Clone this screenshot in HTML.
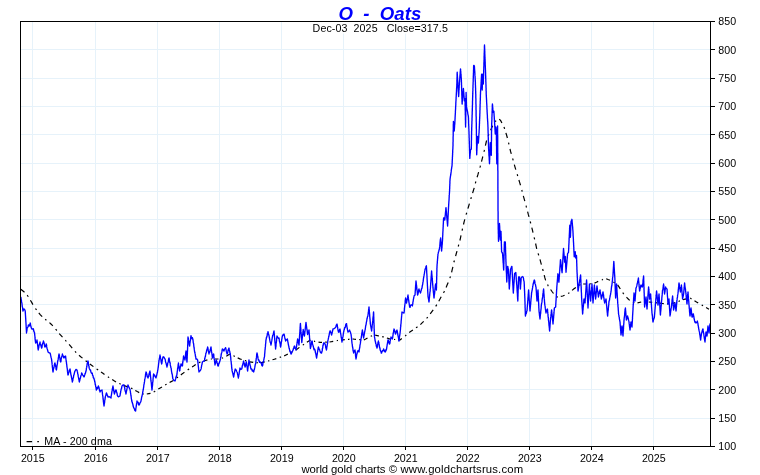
<!DOCTYPE html>
<html><head><meta charset="utf-8"><title>O - Oats</title>
<style>
html,body{margin:0;padding:0;background:#fff;}
body{width:760px;height:475px;overflow:hidden;}
svg{display:block;}
text{font-family:"Liberation Sans",Arial,sans-serif;}
</style></head><body>
<svg width="760" height="475" viewBox="0 0 760 475">
<rect x="0" y="0" width="760" height="475" fill="#fff"/>
<path d="M21 49.83H710 M21 78.17H710 M21 106.50H710 M21 134.83H710 M21 163.17H710 M21 191.50H710 M21 219.83H710 M21 248.17H710 M21 276.50H710 M21 304.83H710 M21 333.17H710 M21 361.50H710 M21 389.83H710 M21 418.17H710 M32.5 22V446 M95.5 22V446 M157.5 22V446 M219.5 22V446 M281.5 22V446 M343.5 22V446 M405.5 22V446 M467.5 22V446 M529.5 22V446 M591.5 22V446 M653.5 22V446" stroke="#e6f2fa" stroke-width="1" fill="none" shape-rendering="crispEdges"/>
<rect x="311" y="22" width="138" height="11.5" fill="#fff"/>
<path d="M20.8 289.2 L22.7 290.8 L24.5 292.3 M27.2 295.2 L27.9 296.1 L28.4 296.7 M30.4 300.2 L31.7 302.4 L32.9 304.6 M35.5 308.5 L36.1 309.4 L36.5 310.0 M38.8 312.9 L40.4 314.9 L42.2 316.7 M45.2 319.3 L45.8 319.8 L46.4 320.3 M49.5 322.6 L51.2 324.2 L52.8 325.9 M55.6 329.1 L56.3 329.9 L56.8 330.5 M59.2 333.6 L60.9 335.4 L62.5 337.1 M65.4 340.2 L65.9 340.8 L66.4 341.3 M69.1 344.4 L70.8 346.3 L72.2 348.1 M75.0 351.4 L75.7 352.1 L76.1 352.7 M79.0 355.3 L80.7 356.7 L82.5 358.1 M85.6 360.7 L86.4 361.3 L87.0 361.8 M89.8 363.9 L91.6 365.2 L93.4 366.6 M96.6 368.9 L97.5 369.5 L98.1 370.0 M101.0 372.0 L102.9 373.3 L104.5 374.5 M107.9 376.7 L108.6 377.2 L109.2 377.6 M112.2 379.5 L114.1 380.8 L116.0 382.0 M119.3 383.4 L120.0 383.8 L120.7 384.1 M123.8 385.4 L125.6 386.1 L127.5 386.8 M131.1 388.1 L131.8 388.4 L132.4 388.8 M135.3 390.4 L137.3 391.6 L139.2 392.6 M142.5 394.0 L143.2 394.0 L143.8 394.0 M146.8 394.0 L148.8 393.6 L150.5 393.3 M153.7 391.9 L154.6 391.4 L155.2 391.0 M158.3 389.1 L160.2 387.9 L162.0 386.9 M165.2 385.0 L165.9 384.6 L166.6 384.2 M169.6 382.5 L171.6 381.4 L173.3 380.4 M176.6 378.1 L177.4 377.4 L178.0 377.0 M180.8 374.9 L182.6 373.6 L184.4 372.2 M187.7 369.9 L188.5 369.3 L189.2 368.9 M192.1 366.9 L194.0 365.7 L195.7 364.5 M199.0 362.7 L199.7 362.4 L200.4 362.2 M203.5 361.2 L205.4 360.5 L207.4 359.9 M210.8 359.0 L211.5 359.0 L212.0 359.0 M215.0 359.0 L216.8 359.0 L218.5 359.0 M221.9 358.2 L222.6 358.0 L223.1 357.8 M226.3 356.2 L228.3 355.0 L230.0 354.0 M233.4 355.7 L234.1 356.0 L234.8 356.4 M237.7 357.9 L239.8 358.9 L241.7 359.5 M244.9 360.5 L245.6 360.7 L246.3 360.9 M249.5 361.9 L251.5 362.1 L253.2 362.3 M256.5 362.6 L257.2 362.7 L257.8 362.8 M260.7 362.8 L262.7 362.3 L264.7 361.8 M268.1 361.0 L268.8 360.8 L269.3 360.7 M272.5 359.8 L274.4 359.2 L276.3 358.6 M279.7 357.4 L280.4 357.2 L281.1 357.0 M284.2 355.9 L286.0 355.0 L287.8 354.1 M291.2 352.4 L291.9 352.0 L292.6 351.7 M295.8 350.1 L297.6 348.8 L299.4 347.4 M302.7 345.1 L303.3 344.7 L304.0 344.2 M306.9 342.2 L308.8 340.9 L310.5 340.1 M314.0 341.2 L314.8 341.4 L315.2 341.5 M318.5 342.1 L320.2 342.4 L322.0 342.3 M325.2 342.2 L326.0 342.2 L326.8 342.1 M329.5 342.0 L331.5 341.7 L333.2 341.4 M336.8 340.6 L337.5 340.5 L338.0 340.4 M341.0 339.9 L343.0 339.8 L344.8 339.6 M348.0 339.3 L348.8 339.3 L349.5 339.2 M352.5 339.0 L354.2 339.2 L356.0 339.3 M359.2 339.6 L360.0 339.7 L360.8 339.7 M363.8 340.0 L365.7 339.0 L367.5 337.9 M370.7 336.3 L371.4 336.0 L372.1 335.8 M375.2 335.2 L377.2 335.6 L379.0 336.0 M382.2 336.6 L383.0 336.8 L383.8 336.9 M386.9 338.0 L388.8 338.6 L390.8 339.1 M394.0 339.4 L394.8 339.5 L395.2 339.5 M398.2 339.8 L400.2 339.8 L401.8 338.6 M405.1 335.9 L405.7 335.5 L406.3 335.0 M409.2 332.6 L411.0 331.3 L412.9 330.0 M416.0 327.8 L416.9 327.2 L417.5 326.8 M420.4 324.6 L422.1 322.9 L423.7 321.3 M426.6 318.4 L427.3 317.7 L427.8 317.2 M430.2 313.9 L431.7 311.9 L433.2 309.9 M435.7 306.4 L436.2 305.6 L436.8 304.7 M438.8 301.2 L440.0 299.0 L441.2 296.8 M443.5 292.9 L444.0 292.0 L444.4 291.1 M446.1 287.4 L447.2 284.8 L448.2 282.5 M449.9 278.1 L450.2 277.1 L450.5 276.4 M451.6 272.3 L452.2 269.6 L452.9 266.9 M453.9 262.2 L454.2 261.3 L454.4 260.5 M455.6 256.2 L456.3 253.5 L457.0 251.1 M458.2 246.5 L458.5 245.6 L458.7 244.6 M459.9 240.5 L460.5 237.8 L461.0 235.3 M462.1 230.6 L462.3 229.6 L462.5 228.7 M463.5 224.5 L464.1 221.8 L464.8 219.3 M466.1 214.7 L466.4 213.7 L466.7 212.8 M467.9 208.6 L468.7 206.0 L469.4 203.6 M470.9 199.0 L471.1 198.0 L471.4 197.3 M472.6 193.2 L473.4 190.5 L474.2 187.8 M475.4 183.4 L475.6 182.4 L475.9 181.5 M477.1 177.3 L477.9 174.7 L478.6 172.2 M479.9 167.6 L480.2 166.7 L480.4 165.7 M481.5 161.6 L482.2 158.9 L482.8 156.5 M483.9 151.8 L484.2 150.9 L484.4 149.9 M485.4 145.7 L486.0 143.0 L486.6 140.5 M488.3 135.9 L488.6 135.0 L488.9 134.2 M490.6 130.3 L491.6 128.0 L492.7 125.7 M494.9 121.6 L495.5 121.2 L496.2 120.8 M499.3 119.1 L500.7 120.7 L501.9 123.0 M503.9 126.9 L504.3 127.8 L504.6 128.8 M505.9 132.8 L506.7 135.5 L507.4 138.0 M508.5 142.7 L508.8 143.7 L508.9 144.4 M510.0 148.8 L510.6 151.5 L511.3 153.9 M512.6 158.5 L512.9 159.4 L513.2 160.4 M514.3 164.6 L515.1 167.3 L515.8 169.7 M517.2 174.3 L517.5 175.2 L517.7 176.0 M518.9 180.0 L519.7 182.7 L520.5 185.3 M521.8 190.0 L522.0 190.9 L522.2 191.7 M523.3 195.9 L524.1 198.6 L524.8 201.1 M526.1 205.7 L526.3 206.7 L526.5 207.5 M527.6 211.7 L528.3 214.4 L529.0 216.8 M530.2 221.5 L530.5 222.5 L530.7 223.4 M531.8 227.6 L532.5 230.3 L533.0 232.7 M534.1 237.4 L534.4 238.3 L534.6 239.3 M535.6 243.5 L536.2 246.3 L536.7 248.8 M538.1 253.4 L538.4 254.3 L538.7 255.3 M540.0 259.4 L540.7 262.1 L541.4 264.6 M542.6 269.0 L542.9 270.0 L543.1 271.0 M544.2 275.2 L544.9 277.9 L545.6 280.3 M547.6 284.6 L548.0 285.5 L548.4 286.1 M550.6 289.5 L552.0 291.5 L553.5 293.5 M556.5 296.5 L557.0 297.0 L557.8 296.9 M560.8 296.4 L562.8 296.0 L564.6 295.2 M568.1 293.5 L568.8 293.1 L569.4 292.7 M572.1 290.4 L574.0 288.8 L575.9 287.4 M579.1 285.3 L579.7 284.9 L580.4 284.4 M583.2 284.0 L585.2 284.0 L587.0 284.0 M590.2 283.8 L591.0 283.7 L591.5 283.6 M594.5 283.1 L596.4 282.3 L598.2 281.4 M601.8 279.8 L602.5 279.6 L603.0 279.4 M606.2 278.7 L608.1 279.5 L610.0 280.2 M613.4 282.0 L614.1 282.4 L614.8 282.7 M617.6 284.8 L619.0 286.9 L620.3 289.0 M622.7 292.6 L623.3 293.4 L623.8 294.0 M626.5 297.1 L628.0 298.8 L629.7 300.4 M633.0 302.3 L633.7 302.6 L634.3 303.0 M637.5 302.8 L639.5 302.4 L641.2 302.0 M644.5 302.0 L645.2 302.0 L645.8 302.0 M648.8 302.0 L650.5 302.1 L652.2 302.3 M655.8 302.7 L656.5 302.8 L657.0 302.9 M660.0 303.2 L662.0 303.5 L663.8 303.7 M667.0 303.9 L667.8 303.8 L668.5 303.7 M671.5 303.3 L673.5 303.1 L675.2 302.6 M678.5 301.3 L679.2 301.1 L679.9 300.8 M683.0 299.8 L685.0 299.2 L686.8 298.8 M690.2 298.1 L690.9 298.5 L691.5 298.9 M694.5 300.8 L696.5 302.1 L698.2 303.1 M701.7 305.1 L702.4 305.4 L703.0 305.8 M706.1 307.5 L707.7 308.4 L709.0 309.2" fill="none" stroke="#000" stroke-width="1.2"/>
<polyline points="20.6,297.0 20.8,297.6 21.0,298.1 21.1,299.6 21.3,299.6 21.5,301.0 21.6,301.9 21.7,302.5 21.9,303.0 22.0,304.3 22.1,304.7 22.2,306.0 22.3,306.8 22.5,307.2 22.6,308.0 22.7,309.2 22.9,310.5 23.0,311.0 23.5,309.2 24.0,309.0 24.6,309.4 25.2,311.0 25.3,311.9 25.3,313.0 25.4,313.5 25.4,314.2 25.5,315.5 25.5,315.6 25.6,317.0 25.6,317.4 25.7,318.1 25.7,318.9 25.8,320.0 25.8,320.7 25.9,321.9 25.9,322.2 26.0,323.3 26.0,324.2 26.1,324.8 26.1,325.7 26.1,326.2 26.2,327.0 26.2,327.9 26.3,329.1 26.3,329.7 26.4,330.4 26.4,331.4 26.5,332.2 26.5,333.0 26.6,332.0 26.7,331.6 26.9,330.7 27.0,329.4 27.1,328.9 27.2,328.0 27.5,327.3 27.8,327.2 28.1,326.2 28.4,325.0 29.2,326.0 29.5,324.6 29.9,324.8 30.2,323.0 30.4,323.3 30.5,324.5 30.7,325.7 30.8,325.8 31.0,327.0 31.4,328.0 31.8,329.0 33.0,329.0 33.4,328.8 33.7,330.8 34.0,331.8 34.4,332.0 34.5,332.9 34.6,334.0 34.7,334.4 34.8,335.6 34.9,336.3 35.0,337.2 35.0,337.9 35.1,339.1 35.2,340.0 35.3,340.4 35.4,341.5 35.5,341.7 35.6,343.0 36.0,342.7 36.3,341.8 36.6,341.8 37.0,340.0 37.1,341.1 37.2,341.5 37.3,342.4 37.4,343.5 37.5,343.7 37.6,345.0 37.7,345.5 37.8,346.3 37.9,347.1 38.0,348.6 38.1,348.8 38.2,350.0 38.4,348.9 38.5,348.2 38.7,348.0 38.9,346.1 39.0,345.8 39.2,345.0 39.5,344.1 39.7,343.6 40.0,342.0 40.2,343.2 40.4,344.1 40.6,344.1 40.8,345.1 41.0,346.0 41.3,346.8 41.6,348.0 41.8,347.8 42.0,347.1 42.2,345.2 42.4,344.4 42.6,343.7 42.8,343.0 43.0,342.5 43.2,341.9 43.4,341.0 43.6,341.5 43.9,342.0 44.1,343.5 44.3,344.2 44.5,345.4 44.8,346.8 45.0,347.0 45.3,346.6 45.6,345.5 45.9,345.0 46.2,344.0 46.4,345.0 46.6,345.0 46.7,346.9 46.9,347.6 47.1,348.5 47.3,349.2 47.5,349.5 47.6,350.3 47.8,350.7 48.0,352.0 49.0,352.8 50.0,353.0 50.2,353.3 50.4,354.2 50.6,355.2 50.8,356.0 51.0,357.2 51.2,357.7 51.4,358.5 51.6,360.0 51.7,360.5 51.8,361.2 51.9,362.3 52.0,362.7 52.1,364.4 52.2,364.9 52.3,365.3 52.3,366.2 52.4,367.1 52.5,367.9 52.6,368.4 52.7,369.9 52.8,370.9 52.9,371.2 53.0,372.0 53.2,371.1 53.3,369.8 53.5,368.9 53.7,368.4 53.9,367.4 54.0,367.3 54.2,366.0 54.5,364.5 54.7,363.3 55.0,363.0 55.2,364.4 55.4,364.8 55.5,365.2 55.7,366.6 55.9,366.8 56.0,368.3 56.2,369.7 56.4,370.0 56.5,369.6 56.6,368.6 56.8,367.3 56.9,366.7 57.0,365.6 57.1,365.5 57.2,364.4 57.4,363.9 57.5,362.6 57.6,362.0 57.7,360.9 57.9,360.8 58.0,360.2 58.2,359.2 58.3,358.4 58.4,357.6 58.6,356.7 58.7,355.3 58.9,354.8 59.0,354.0 59.2,354.6 59.3,355.0 59.5,355.8 59.6,356.9 59.8,357.7 60.0,359.0 60.1,360.2 60.3,360.3 60.4,361.7 60.6,362.0 60.8,361.8 61.0,361.0 61.1,359.4 61.3,358.4 61.5,357.6 61.7,356.8 61.9,356.0 62.0,355.8 62.2,355.3 62.4,354.0 62.7,355.4 63.0,355.6 63.4,356.7 63.7,357.8 64.0,358.0 64.5,356.4 65.1,357.0 65.6,356.0 65.7,357.3 65.8,358.0 65.9,358.8 66.0,359.4 66.1,359.9 66.2,361.4 66.4,361.8 66.5,363.1 66.6,364.1 66.7,364.4 66.8,365.2 66.9,366.6 67.0,367.0 67.1,368.0 67.2,368.3 67.3,369.0 67.4,369.9 67.5,371.4 67.6,372.1 67.7,372.3 67.8,373.7 67.9,374.7 68.0,375.0 68.3,374.4 68.6,373.0 68.9,372.5 69.1,371.0 69.4,369.9 69.7,370.6 70.0,369.0 70.2,370.0 70.3,370.8 70.5,372.1 70.6,372.4 70.8,373.8 70.9,374.6 71.0,374.8 71.2,376.0 71.4,376.5 71.5,377.5 71.7,378.2 71.9,379.5 72.1,380.0 72.2,381.0 72.4,382.0 72.6,380.7 72.8,380.8 72.9,379.2 73.1,378.4 73.3,377.7 73.5,377.3 73.6,375.8 73.8,375.0 74.0,374.9 74.3,373.4 74.5,372.6 74.8,371.8 75.0,371.0 76.0,369.4 77.0,370.0 77.2,370.8 77.3,371.4 77.5,372.0 77.7,373.9 77.9,374.0 78.1,375.2 78.2,376.4 78.4,377.0 78.6,377.9 78.7,378.5 78.9,379.5 79.1,380.4 79.2,381.5 79.4,382.0 79.6,380.6 79.8,380.4 80.0,379.2 80.2,378.4 80.4,378.2 80.6,377.0 80.8,376.2 81.0,375.5 81.2,375.0 81.4,374.4 81.6,373.0 82.1,373.7 82.6,374.8 83.0,375.4 83.5,376.2 84.0,377.0 84.3,376.5 84.6,375.2 84.9,374.5 85.1,373.5 85.4,373.4 85.7,372.2 86.0,371.0 86.1,370.6 86.3,369.8 86.4,368.2 86.6,367.6 86.7,367.2 86.9,366.2 87.0,365.0 87.2,363.7 87.4,362.9 87.6,362.5 87.8,361.2 88.0,361.0 88.1,361.6 88.3,362.2 88.4,363.8 88.6,364.7 88.7,365.7 88.9,365.8 89.0,367.0 89.3,368.4 89.7,369.3 90.0,370.0 90.5,370.0 91.0,372.3 91.5,373.3 92.0,373.0 92.3,373.3 92.5,375.3 92.8,375.2 93.1,376.1 93.3,377.7 93.6,378.2 93.9,377.9 94.1,379.1 94.4,380.0 94.6,380.9 94.7,381.5 94.9,382.1 95.1,383.1 95.2,384.4 95.4,384.4 95.6,385.9 95.7,386.6 95.9,386.9 96.1,388.1 96.2,389.3 96.4,390.0 96.8,389.2 97.2,387.5 97.6,388.6 98.0,387.4 98.4,386.0 98.6,387.5 98.9,387.1 99.1,388.2 99.3,388.8 99.5,390.7 99.8,390.8 100.0,392.0 100.7,390.5 101.3,390.5 102.0,390.0 102.1,391.2 102.2,391.9 102.3,392.2 102.4,392.9 102.5,394.4 102.6,394.9 102.7,395.8 102.8,396.0 102.9,396.8 103.0,398.0 103.1,399.0 103.2,399.5 103.3,400.0 103.4,401.6 103.5,402.1 103.6,403.1 103.7,403.2 103.8,404.8 103.9,404.8 104.0,406.0 104.1,405.6 104.2,404.4 104.4,403.4 104.5,402.9 104.6,402.5 104.7,401.0 104.8,400.0 105.0,399.6 105.1,398.5 105.2,398.0 105.4,396.6 105.6,395.9 105.8,394.9 106.0,394.3 106.2,393.6 106.4,393.0 106.7,393.4 107.0,395.1 107.4,395.0 107.7,396.2 108.0,397.0 109.0,396.6 110.0,397.3 111.0,398.0 111.1,396.6 111.2,396.0 111.4,394.9 111.5,394.7 111.6,393.7 111.8,392.4 111.9,391.8 112.0,391.0 112.2,390.7 112.3,388.8 112.5,388.9 112.7,387.6 112.8,386.8 113.0,386.0 113.1,387.2 113.3,387.5 113.4,388.4 113.6,389.4 113.7,390.6 113.8,390.6 114.0,392.0 114.1,392.6 114.3,393.4 114.4,394.0 114.7,393.0 115.0,392.1 115.4,390.8 115.7,390.1 116.0,390.0 116.2,390.2 116.5,392.1 116.7,392.2 116.9,392.9 117.1,393.7 117.4,395.6 117.6,396.0 118.4,396.8 119.2,396.4 120.0,396.0 120.1,394.9 120.3,394.0 120.4,393.2 120.6,392.5 120.7,391.3 120.9,390.8 121.0,390.0 121.2,388.9 121.4,389.0 121.6,388.3 121.8,386.9 122.0,386.0 123.0,384.9 124.0,385.0 124.2,386.4 124.3,386.4 124.5,387.3 124.7,387.7 124.8,389.0 125.0,390.0 125.2,390.8 125.4,391.6 125.6,392.0 125.8,393.2 126.0,394.0 126.2,392.6 126.3,392.0 126.5,391.0 126.7,390.5 126.8,389.3 127.0,389.0 127.2,387.5 127.4,387.1 127.6,386.2 127.8,385.9 128.0,385.0 128.4,385.9 128.8,387.1 129.2,387.7 129.6,388.7 130.0,389.0 130.1,390.3 130.2,390.6 130.4,391.4 130.5,393.0 130.6,393.0 130.8,394.5 130.9,395.3 131.0,396.0 131.1,396.3 131.3,398.1 131.4,399.0 131.6,399.6 131.7,400.5 131.9,401.5 132.0,402.0 132.3,402.3 132.6,403.8 132.9,404.6 133.1,406.0 133.4,406.8 133.7,407.7 134.0,408.0 134.4,408.9 134.8,410.4 135.2,410.7 135.6,411.0 135.7,410.3 135.8,409.0 135.9,408.0 136.1,407.2 136.2,406.6 136.3,405.5 136.4,405.0 136.5,404.6 136.6,403.5 136.8,402.7 136.9,401.9 137.0,401.0 137.4,402.2 137.8,402.6 138.2,402.3 138.6,404.8 139.0,405.0 139.4,404.7 139.8,403.4 140.2,402.7 140.6,402.1 141.0,401.0 141.2,399.6 141.3,399.6 141.5,398.2 141.7,397.1 141.8,396.5 142.0,396.3 142.2,394.8 142.3,394.6 142.5,394.1 142.7,392.7 142.8,391.7 143.0,391.0 143.1,390.1 143.3,389.5 143.4,388.8 143.5,387.8 143.7,387.0 143.8,385.5 143.9,384.8 144.1,384.1 144.2,383.8 144.3,382.5 144.5,381.9 144.6,381.0 144.7,379.6 144.9,378.9 145.0,378.3 145.1,377.9 145.2,377.1 145.4,376.3 145.5,375.0 145.6,374.5 145.7,373.6 145.9,372.8 146.0,372.0 146.3,372.2 146.6,374.4 146.9,374.1 147.1,376.2 147.4,377.0 147.7,376.3 148.0,378.0 148.2,377.2 148.4,376.9 148.7,376.4 148.9,374.8 149.1,373.8 149.3,372.9 149.6,373.2 149.8,371.3 150.0,371.0 150.1,371.9 150.2,372.3 150.2,373.5 150.3,374.7 150.4,374.8 150.5,376.3 150.6,376.8 150.7,378.0 150.8,378.7 150.8,379.1 150.9,380.5 151.0,381.0 151.1,381.8 151.2,382.2 151.3,383.0 151.4,384.3 151.5,385.0 151.5,385.7 151.6,386.4 151.7,387.4 151.8,388.2 151.9,389.5 152.0,390.0 152.1,388.8 152.2,388.6 152.2,387.9 152.3,386.5 152.4,386.4 152.5,385.4 152.6,384.8 152.6,383.4 152.7,382.7 152.8,381.9 152.9,381.6 153.0,380.5 153.0,379.5 153.1,378.7 153.2,377.8 153.3,376.8 153.4,376.0 153.4,375.9 153.5,374.6 153.6,374.0 154.1,375.8 154.6,375.0 155.0,375.9 155.5,377.2 156.0,378.0 156.2,376.8 156.4,376.2 156.5,376.1 156.7,375.2 156.9,374.3 157.1,373.3 157.3,372.8 157.5,372.0 157.6,370.7 157.8,370.1 158.0,369.0 158.1,367.8 158.2,367.6 158.3,366.6 158.4,366.0 158.5,365.1 158.6,364.0 158.7,363.0 158.8,363.0 158.9,361.4 159.0,361.0 159.1,360.1 159.3,359.1 159.4,358.2 159.6,357.8 159.7,357.3 159.9,355.6 160.0,355.0 160.1,356.0 160.3,356.4 160.4,357.5 160.6,358.1 160.7,358.7 160.9,359.5 161.0,360.4 161.2,362.0 161.3,362.4 161.5,362.9 161.6,364.0 161.8,363.6 161.9,362.9 162.1,361.3 162.3,360.1 162.5,359.2 162.7,358.2 162.8,357.7 163.0,357.0 163.7,356.8 164.3,357.8 165.0,359.0 165.2,359.5 165.4,360.7 165.6,361.9 165.8,362.6 166.0,362.9 166.2,363.7 166.4,364.6 166.6,365.2 166.8,366.0 167.0,367.0 167.2,365.6 167.4,365.1 167.5,365.2 167.7,363.2 167.9,362.9 168.1,362.3 168.3,361.7 168.5,360.1 168.6,359.3 168.8,358.5 169.0,358.0 169.2,358.7 169.3,359.6 169.5,361.1 169.7,361.8 169.8,362.6 170.0,362.4 170.2,363.3 170.3,364.9 170.5,366.0 170.7,366.3 170.8,367.3 171.0,368.0 171.2,368.3 171.3,369.6 171.5,371.0 171.6,371.8 171.8,372.7 171.9,373.6 172.1,373.6 172.2,374.3 172.4,375.2 172.5,376.5 172.7,377.5 172.8,378.7 173.0,379.0 173.7,380.2 174.3,380.7 175.0,381.0 175.2,380.6 175.4,379.4 175.7,378.7 175.9,377.2 176.1,377.5 176.3,375.9 176.6,376.2 176.8,375.0 177.0,374.0 177.1,373.0 177.2,371.9 177.3,371.2 177.4,370.8 177.5,370.0 177.6,368.5 177.8,367.6 177.9,367.3 178.0,366.5 178.1,365.4 178.2,364.4 178.3,363.9 178.4,363.0 178.5,363.3 178.6,364.4 178.8,365.4 178.9,366.7 179.0,367.2 179.1,368.2 179.2,368.6 179.4,369.1 179.5,369.9 179.6,371.0 179.8,370.7 179.9,369.5 180.1,368.1 180.3,366.9 180.5,366.6 180.7,366.0 180.8,364.8 181.0,364.0 181.5,364.1 181.9,365.7 182.4,366.0 182.5,365.6 182.6,364.1 182.7,363.0 182.8,362.5 182.9,361.8 183.0,361.2 183.1,359.9 183.2,359.6 183.3,358.7 183.4,357.7 183.5,356.5 183.6,356.0 183.9,357.6 184.2,357.3 184.4,358.9 184.7,358.7 185.0,360.0 185.1,358.9 185.2,358.6 185.3,357.4 185.4,357.2 185.5,355.9 185.5,354.8 185.6,354.0 185.7,353.4 185.8,352.8 185.9,352.2 186.0,351.0 186.1,351.5 186.2,352.6 186.2,353.3 186.3,354.8 186.4,354.9 186.5,355.7 186.5,356.5 186.6,357.7 186.7,359.0 186.8,359.8 186.8,360.5 186.9,361.6 187.0,362.0 187.0,361.5 187.1,360.2 187.1,359.3 187.1,359.0 187.2,358.1 187.2,356.7 187.2,356.4 187.3,355.3 187.3,354.5 187.4,353.6 187.4,352.7 187.4,351.8 187.5,351.1 187.5,350.4 187.5,350.0 187.6,348.6 187.6,348.0 187.6,347.5 187.7,346.1 187.7,345.4 187.7,344.8 187.8,344.0 187.8,342.9 187.8,341.8 187.8,341.2 187.9,340.3 187.9,339.8 187.9,338.5 188.0,337.8 188.0,337.0 188.1,338.3 188.3,338.1 188.4,339.4 188.6,340.6 188.7,341.4 188.9,341.4 189.0,342.2 189.2,343.0 189.3,344.9 189.5,344.9 189.6,346.0 189.7,345.5 189.8,344.8 189.9,343.4 190.0,342.6 190.1,342.5 190.2,341.3 190.4,340.2 190.5,339.8 190.6,338.6 190.7,337.8 190.8,336.7 190.9,336.7 191.0,335.6 191.3,337.2 191.7,337.3 192.0,338.7 192.3,337.6 192.7,338.7 193.0,340.0 193.1,340.8 193.2,342.1 193.3,343.0 193.5,343.2 193.6,343.9 193.7,344.9 193.8,345.8 193.9,347.1 194.1,347.2 194.2,348.6 194.3,349.4 194.4,350.0 194.5,351.2 194.7,352.0 194.8,352.6 195.0,353.1 195.1,353.9 195.3,354.7 195.4,356.1 195.6,356.1 195.7,357.0 195.9,358.5 196.0,359.0 196.8,358.9 197.6,360.0 197.7,360.4 197.8,361.2 197.9,362.5 198.0,363.0 198.1,364.5 198.2,365.2 198.3,366.1 198.3,366.2 198.4,366.8 198.5,367.6 198.6,368.8 198.7,369.8 198.8,370.3 198.9,370.9 199.0,372.0 199.5,371.1 200.0,370.8 200.5,370.1 201.0,369.0 201.2,368.4 201.3,367.7 201.5,366.6 201.7,365.0 201.9,365.0 202.1,363.5 202.2,363.0 202.4,362.0 203.4,361.2 204.4,361.0 204.6,360.5 204.7,359.0 204.9,358.3 205.0,357.5 205.2,356.6 205.4,356.7 205.5,355.5 205.7,354.4 205.8,353.7 206.0,353.0 206.2,352.9 206.5,351.3 206.7,350.0 206.9,350.0 207.1,348.9 207.4,348.6 207.6,347.0 207.8,347.4 207.9,348.7 208.1,350.0 208.3,350.9 208.5,351.9 208.7,351.7 208.8,352.9 209.0,354.0 209.2,352.6 209.4,352.0 209.7,352.4 209.9,351.0 210.1,350.8 210.3,349.1 210.6,349.1 210.8,347.7 211.0,347.0 211.1,347.6 211.2,349.0 211.3,350.0 211.4,350.0 211.5,351.3 211.6,352.2 211.8,352.6 211.9,353.6 212.0,354.3 212.1,355.2 212.2,356.1 212.3,357.3 212.4,358.0 212.6,357.4 212.9,355.9 213.1,354.8 213.4,354.5 213.6,354.0 213.7,355.0 213.8,355.4 213.9,356.4 214.0,357.1 214.1,358.5 214.2,359.1 214.4,359.5 214.5,360.4 214.6,361.5 214.7,362.5 214.8,363.4 214.9,363.7 215.0,365.0 215.2,363.7 215.5,363.6 215.7,362.4 215.9,361.3 216.2,360.5 216.4,360.0 216.6,361.5 216.9,361.4 217.1,362.7 217.3,363.2 217.5,364.2 217.8,365.7 218.0,366.0 218.3,366.1 218.7,364.1 219.0,362.9 219.3,363.1 219.7,361.3 220.0,361.0 220.2,359.6 220.3,359.9 220.5,358.5 220.6,358.2 220.8,356.9 221.0,356.7 221.1,355.4 221.3,354.2 221.4,353.2 221.6,353.1 221.8,352.4 221.9,351.9 222.1,350.1 222.2,350.0 222.4,349.0 222.9,349.4 223.5,350.3 224.0,351.0 224.4,349.4 224.8,348.9 225.2,348.5 225.6,347.6 225.8,349.0 225.9,348.7 226.1,350.0 226.3,351.2 226.5,352.2 226.7,352.0 226.8,352.7 227.0,354.0 227.3,353.9 227.6,353.1 227.9,351.4 228.1,349.8 228.4,350.4 228.7,348.7 229.0,348.0 229.2,349.4 229.3,349.9 229.5,351.0 229.7,351.1 229.9,352.7 230.1,352.9 230.2,354.0 230.4,355.0 230.5,356.2 230.6,357.0 230.7,357.2 230.8,358.1 230.8,359.1 230.9,360.0 231.0,360.7 231.1,361.3 231.2,362.3 231.3,363.5 231.4,364.5 231.5,364.6 231.6,365.9 231.6,366.9 231.7,367.1 231.8,368.6 231.9,368.8 232.0,370.0 232.2,371.0 232.4,371.8 232.6,372.8 232.8,373.2 233.0,374.3 233.2,375.4 233.4,376.0 233.6,377.0 233.8,376.4 233.9,375.3 234.1,374.5 234.2,373.2 234.4,373.1 234.6,372.2 234.7,371.1 234.9,370.9 235.0,370.1 235.2,369.0 235.6,369.7 236.1,369.8 236.6,371.2 237.0,372.0 237.2,372.3 237.4,373.2 237.6,374.5 237.8,374.9 238.0,376.2 238.2,377.2 238.4,378.0 238.5,376.7 238.7,376.5 238.8,375.0 238.9,374.9 239.1,374.1 239.2,373.0 239.3,371.7 239.5,371.3 239.6,370.4 239.7,370.2 239.9,368.4 240.0,368.0 240.8,369.3 241.6,369.0 241.8,368.9 242.0,367.7 242.2,367.0 242.4,365.4 242.6,365.7 242.8,364.2 243.0,364.0 243.2,363.2 243.4,361.3 243.6,361.0 243.8,362.2 244.0,363.3 244.2,363.0 244.4,364.2 244.6,365.6 244.8,365.7 245.0,367.0 245.2,366.8 245.5,365.0 245.7,365.0 245.9,363.1 246.2,362.8 246.4,362.0 246.5,363.2 246.6,363.3 246.7,364.2 246.8,365.3 246.9,365.9 247.1,366.4 247.2,367.4 247.3,368.2 247.4,369.8 247.5,370.4 247.6,371.0 247.7,370.5 247.8,369.0 247.9,368.7 248.0,367.2 248.1,366.8 248.2,366.1 248.4,364.9 248.5,364.6 248.6,363.4 248.7,362.6 248.8,362.1 248.9,360.5 249.0,360.0 249.2,361.5 249.4,361.8 249.5,362.3 249.7,363.7 249.9,363.8 250.1,365.6 250.3,365.8 250.5,366.4 250.6,367.7 250.8,368.1 251.0,369.0 251.7,369.0 252.3,371.0 252.9,370.3 253.6,372.0 253.8,371.6 254.0,370.1 254.2,369.8 254.4,369.5 254.6,368.1 254.8,367.4 255.0,366.1 255.2,364.9 255.4,364.1 255.6,364.0 255.7,362.8 255.8,362.4 255.9,361.4 256.0,360.6 256.1,360.2 256.2,358.6 256.4,357.8 256.5,357.4 256.6,355.9 256.7,355.0 256.8,354.5 256.9,353.5 257.0,353.0 257.2,353.7 257.4,354.4 257.5,355.7 257.7,356.6 257.9,357.0 258.0,358.4 258.2,359.1 258.4,360.0 258.9,359.9 259.5,362.3 260.0,362.0 260.5,362.2 261.0,362.8 261.4,363.5 261.9,365.5 262.4,366.0 262.6,365.7 262.8,364.7 262.9,363.4 263.1,362.4 263.3,361.3 263.5,361.3 263.7,360.4 263.9,359.3 264.0,358.8 264.2,357.7 264.4,357.0 264.5,356.6 264.6,355.6 264.6,354.4 264.7,354.1 264.8,352.6 264.9,352.2 264.9,351.3 265.0,350.3 265.1,349.3 265.2,349.2 265.2,347.7 265.3,347.3 265.4,346.9 265.5,345.4 265.5,344.6 265.6,344.1 265.7,343.2 265.8,342.6 265.8,341.9 265.9,340.5 266.0,340.0 266.2,338.9 266.4,338.0 266.6,336.9 266.8,337.2 267.0,336.2 267.2,335.3 267.4,333.4 267.6,333.8 267.8,332.8 268.0,331.6 268.2,332.4 268.4,333.6 268.5,334.0 268.7,334.5 268.9,335.2 269.1,336.2 269.2,336.8 269.4,338.0 269.6,339.0 269.8,340.2 270.0,341.0 270.2,342.0 270.4,342.7 270.6,343.0 270.8,344.2 271.0,345.0 271.1,344.1 271.3,343.7 271.4,342.6 271.6,341.5 271.7,341.2 271.8,340.7 272.0,339.1 272.1,339.0 272.3,337.2 272.4,337.0 272.6,335.8 272.9,334.9 273.1,334.8 273.3,334.2 273.5,333.1 273.8,331.6 274.0,331.0 274.1,332.1 274.1,332.5 274.2,333.2 274.3,334.6 274.4,335.2 274.4,336.1 274.5,336.9 274.6,338.0 274.7,338.3 274.7,339.5 274.8,340.2 274.9,341.1 274.9,341.6 275.0,342.6 275.1,343.3 275.2,343.9 275.2,344.7 275.3,345.8 275.4,346.2 275.5,347.7 275.5,347.9 275.6,349.0 275.7,347.7 275.8,347.0 275.9,347.0 276.0,345.6 276.0,344.6 276.1,343.7 276.2,342.9 276.3,342.7 276.4,341.8 276.5,341.1 276.6,340.3 276.6,338.8 276.7,338.5 276.8,337.5 276.9,337.1 277.0,336.0 277.7,337.4 278.3,338.2 279.0,338.0 279.1,338.3 279.3,340.1 279.4,340.9 279.6,341.8 279.7,341.6 279.9,342.6 280.0,343.3 280.2,344.0 280.3,345.8 280.5,346.5 280.6,347.0 280.7,346.3 280.9,345.7 281.0,344.6 281.2,343.4 281.3,342.3 281.4,341.5 281.6,341.4 281.7,339.9 281.8,339.2 282.0,338.5 282.1,337.2 282.3,336.6 282.4,336.0 282.9,334.9 283.5,335.1 284.0,334.0 284.2,334.7 284.4,335.5 284.6,337.2 284.8,337.5 285.0,338.8 285.2,339.4 285.4,339.5 285.6,341.0 286.2,340.1 286.8,339.5 287.4,339.0 287.5,340.1 287.7,340.5 287.8,341.7 288.0,342.3 288.1,342.8 288.3,344.3 288.4,344.3 288.6,345.9 288.7,346.0 288.9,346.6 289.0,348.0 289.3,348.4 289.6,350.2 289.9,351.4 290.1,350.6 290.4,352.3 290.7,353.1 291.0,354.0 291.4,353.9 291.8,351.8 292.2,351.7 292.6,351.0 292.9,349.9 293.2,349.9 293.5,348.1 293.8,348.4 294.1,346.5 294.4,346.0 294.7,346.3 295.0,348.0 295.4,348.4 295.7,348.5 296.0,350.0 296.1,349.3 296.2,347.9 296.4,347.8 296.5,346.8 296.6,346.1 296.7,345.1 296.9,343.9 297.0,343.1 297.1,342.3 297.2,342.0 297.4,340.3 297.5,340.3 297.6,339.0 297.8,339.2 298.0,340.3 298.2,341.3 298.4,343.0 298.6,343.3 298.8,344.0 299.0,345.0 299.1,344.5 299.1,343.1 299.2,342.5 299.2,341.7 299.3,341.1 299.3,340.2 299.4,339.3 299.4,338.3 299.5,337.4 299.5,336.5 299.6,336.2 299.6,335.2 299.7,334.4 299.8,333.2 299.8,332.5 299.9,332.0 299.9,331.0 300.0,329.8 300.0,329.3 300.1,328.8 300.1,327.4 300.2,326.6 300.2,325.8 300.3,325.3 300.3,324.6 300.4,323.5 300.5,324.0 300.5,324.9 300.6,325.8 300.6,326.7 300.7,327.6 300.8,328.2 300.8,329.1 300.9,329.9 300.9,331.3 301.0,331.9 301.1,332.3 301.1,333.8 301.2,333.9 301.3,335.0 301.3,336.3 301.4,337.0 301.4,337.7 301.5,338.3 301.6,338.9 301.6,340.1 301.7,340.5 301.7,341.4 301.8,342.5 301.9,341.6 302.0,340.4 302.1,340.0 302.1,339.5 302.2,338.6 302.3,337.6 302.4,336.9 302.5,336.0 302.6,334.9 302.7,334.5 302.8,333.5 302.9,333.0 302.9,332.3 303.0,331.1 303.1,330.4 303.2,329.5 303.3,330.6 303.5,331.0 303.6,331.6 303.8,333.0 303.9,334.0 304.1,334.7 304.2,335.4 304.4,336.0 304.5,335.5 304.6,334.6 304.7,333.7 304.8,332.8 304.9,331.8 305.0,331.3 305.1,330.0 305.2,329.5 305.2,329.1 305.3,328.2 305.4,327.3 305.5,326.2 305.6,325.5 305.7,324.8 305.8,324.1 305.9,323.1 306.0,322.4 306.1,323.4 306.2,324.4 306.3,324.5 306.4,325.8 306.5,326.7 306.6,327.1 306.7,328.0 306.9,329.3 307.0,329.2 307.1,330.5 307.2,330.9 307.3,332.4 307.4,333.3 307.5,333.7 307.6,334.5 307.9,333.0 308.2,332.8 308.4,331.9 308.7,331.2 309.0,330.0 309.1,330.8 309.1,331.7 309.2,332.7 309.2,333.2 309.3,333.9 309.4,335.2 309.4,335.4 309.5,336.6 309.5,337.2 309.6,338.3 309.7,338.5 309.7,340.0 309.8,340.3 309.9,340.9 309.9,341.9 310.0,342.8 310.0,343.3 310.1,344.4 310.2,345.2 310.2,346.2 310.3,346.8 310.3,347.5 310.4,348.5 310.6,347.3 310.8,347.1 310.9,346.6 311.1,345.2 311.3,344.0 311.5,343.9 311.6,342.5 311.8,341.5 312.0,341.0 312.2,341.4 312.4,343.1 312.6,344.0 312.8,344.7 313.0,345.3 313.2,346.3 313.4,346.8 313.6,348.0 314.1,349.7 314.5,349.0 315.0,350.0 315.2,351.0 315.3,352.0 315.5,352.8 315.6,353.2 315.8,353.7 316.0,354.9 316.1,355.1 316.3,356.8 316.4,357.0 316.6,358.0 316.7,357.5 316.9,356.0 317.0,355.3 317.2,354.3 317.3,353.7 317.4,352.6 317.6,351.5 317.7,351.5 317.8,350.1 318.0,349.3 318.1,348.5 318.3,347.8 318.4,347.0 318.7,347.7 319.0,348.9 319.4,349.7 319.7,349.9 320.0,351.0 320.5,352.6 321.1,353.1 321.6,353.0 321.8,351.6 321.9,351.7 322.1,351.0 322.3,350.0 322.4,348.4 322.6,348.4 322.8,347.3 322.9,345.7 323.1,344.9 323.3,345.2 323.4,344.0 323.6,343.0 324.3,343.0 325.0,344.0 325.2,344.3 325.4,345.2 325.6,346.2 325.8,347.8 326.0,348.1 326.2,348.7 326.4,350.0 326.5,349.6 326.7,348.7 326.8,347.1 326.9,347.1 327.1,346.0 327.2,345.3 327.3,344.4 327.5,343.8 327.6,342.8 327.7,342.0 327.9,340.5 328.0,340.0 328.2,339.4 328.4,338.4 328.5,337.9 328.7,336.6 328.9,336.4 329.1,335.2 329.3,334.0 329.5,333.1 329.6,332.2 329.8,331.8 330.0,331.0 330.3,331.0 330.6,332.5 331.0,332.7 331.3,334.2 331.6,335.0 331.8,334.1 332.0,333.3 332.2,332.9 332.4,330.9 332.6,331.2 332.8,329.8 333.0,329.0 334.0,328.6 335.0,328.0 335.4,327.6 335.8,327.1 336.2,325.3 336.6,324.6 337.0,324.0 337.1,325.3 337.3,325.1 337.4,326.6 337.6,327.4 337.7,327.5 337.8,328.9 338.0,329.8 338.1,330.9 338.3,331.0 338.4,332.0 338.8,332.3 339.2,330.5 339.6,329.7 340.0,329.0 340.1,330.2 340.2,330.1 340.4,331.7 340.5,332.4 340.6,332.9 340.8,334.3 340.9,334.5 341.0,335.5 341.1,336.3 341.2,337.4 341.4,337.6 341.5,338.7 341.6,339.5 341.8,340.4 341.9,341.5 342.0,342.0 342.1,341.0 342.3,340.8 342.4,339.5 342.5,338.8 342.7,337.7 342.8,337.2 342.9,336.9 343.1,335.8 343.2,335.1 343.3,333.8 343.5,333.0 343.6,332.2 343.7,331.7 343.9,331.0 344.0,330.0 344.3,329.7 344.6,327.6 344.9,328.0 345.2,327.5 345.5,326.1 345.8,324.4 346.1,324.0 346.4,323.6 346.6,323.8 346.7,324.9 346.9,326.6 347.0,327.1 347.2,328.0 347.4,329.0 347.5,330.0 347.7,330.5 347.8,331.3 348.0,332.0 348.5,331.6 349.1,331.1 349.6,330.0 349.9,331.0 350.2,331.9 350.4,331.9 350.7,333.5 351.0,334.0 351.1,334.8 351.2,335.9 351.3,336.0 351.4,336.9 351.5,337.6 351.6,339.1 351.7,340.0 351.7,340.5 351.8,341.1 351.9,342.3 352.0,343.1 352.1,343.7 352.2,344.2 352.3,345.0 352.4,346.0 352.5,346.8 352.7,347.5 352.9,348.5 353.0,349.7 353.1,350.9 353.3,350.7 353.5,352.2 353.6,353.0 354.0,351.3 354.3,350.7 354.6,351.4 355.0,350.0 355.1,350.9 355.2,352.0 355.3,352.4 355.4,352.8 355.5,354.0 355.5,355.0 355.6,356.1 355.7,357.0 355.8,357.3 355.9,358.1 356.0,359.0 356.2,357.7 356.3,357.6 356.5,356.2 356.6,355.4 356.8,354.4 357.0,353.6 357.1,353.6 357.3,352.1 357.4,352.4 357.6,351.0 358.3,350.6 359.0,352.0 359.1,351.6 359.2,350.0 359.4,349.0 359.5,349.0 359.6,347.7 359.8,347.4 359.9,346.0 360.0,345.0 360.1,345.0 360.2,344.1 360.4,343.4 360.5,342.5 360.6,341.0 360.8,340.8 360.9,340.0 361.0,339.0 361.1,338.1 361.3,337.8 361.4,336.3 361.5,336.2 361.6,335.1 361.8,333.6 361.9,332.7 362.0,332.6 362.1,332.0 362.3,330.4 362.4,330.0 362.5,330.6 362.6,331.8 362.8,332.0 362.9,333.6 363.0,334.0 363.1,334.3 363.2,335.5 363.4,336.5 363.5,337.1 363.6,338.0 363.7,337.4 363.9,336.0 364.0,335.9 364.2,334.6 364.3,334.2 364.4,333.4 364.6,332.3 364.7,331.5 364.9,331.1 365.0,330.0 365.2,329.7 365.3,328.6 365.5,327.5 365.6,326.4 365.8,325.3 365.9,325.5 366.1,324.3 366.2,323.6 366.4,322.2 366.5,321.7 366.7,321.3 366.8,320.2 367.0,319.0 367.2,318.3 367.4,317.1 367.6,316.5 367.8,316.3 368.0,315.0 368.1,314.1 368.2,313.6 368.3,312.7 368.4,312.2 368.5,311.3 368.6,310.0 368.7,308.9 368.8,308.4 368.9,307.7 369.0,307.0 369.1,307.9 369.1,308.9 369.2,309.8 369.3,309.9 369.3,311.3 369.4,312.1 369.5,313.0 369.5,313.5 369.6,314.1 369.7,315.4 369.7,316.2 369.8,316.9 369.9,317.9 369.9,318.2 370.0,318.8 370.1,320.0 370.1,321.0 370.2,321.3 370.3,322.6 370.3,323.6 370.4,324.0 370.5,324.6 370.7,325.9 370.9,326.8 371.0,327.5 371.1,328.0 371.3,329.0 371.5,330.4 371.6,331.0 371.7,330.5 371.8,329.3 371.9,328.2 372.0,328.0 372.1,327.2 372.1,325.8 372.2,325.3 372.3,324.8 372.4,324.0 372.5,322.8 372.6,322.0 372.7,321.1 372.8,320.4 372.9,319.2 372.9,318.4 373.0,317.5 373.1,317.2 373.2,316.0 373.3,315.4 373.4,314.4 373.4,313.7 373.5,312.5 373.6,312.0 373.6,312.5 373.7,313.9 373.7,314.3 373.7,314.9 373.7,316.1 373.8,317.0 373.8,317.4 373.8,318.5 373.8,319.1 373.9,320.0 373.9,320.5 373.9,321.3 373.9,322.7 374.0,323.4 374.0,324.0 374.0,324.8 374.1,325.4 374.1,326.6 374.1,327.2 374.1,328.3 374.2,329.0 374.2,329.8 374.2,330.7 374.2,331.0 374.3,331.7 374.3,332.6 374.3,333.4 374.3,334.1 374.4,334.9 374.4,336.0 374.5,336.9 374.7,338.2 374.9,338.6 375.0,340.0 375.1,340.8 375.3,340.8 375.5,342.2 375.6,343.0 375.8,343.7 376.1,344.1 376.3,346.2 376.5,346.0 376.8,347.3 377.0,348.0 377.2,347.3 377.4,346.8 377.5,345.6 377.7,344.4 377.9,343.6 378.0,342.3 378.2,342.5 378.4,341.0 378.6,342.4 378.7,342.3 378.9,342.8 379.0,343.9 379.2,344.8 379.4,346.3 379.5,347.1 379.7,347.8 379.8,347.6 380.0,349.0 380.3,350.3 380.6,351.0 381.0,351.7 381.3,353.1 381.6,353.0 382.0,351.3 382.4,350.6 382.8,351.1 383.2,350.7 383.6,349.0 384.0,350.1 384.3,350.1 384.6,351.4 385.0,352.0 385.5,351.9 385.9,349.8 386.4,350.0 386.5,349.0 386.7,348.1 386.8,347.1 386.9,346.6 387.1,345.5 387.2,344.7 387.3,343.8 387.5,343.5 387.6,342.0 387.7,341.9 387.9,340.5 388.0,340.0 388.3,339.9 388.6,342.4 389.0,341.9 389.3,344.0 389.6,344.0 389.8,343.6 390.0,342.7 390.1,340.9 390.3,340.4 390.5,339.1 390.6,339.3 390.8,338.3 391.0,337.0 391.5,337.9 391.9,338.2 392.4,339.0 392.5,338.0 392.7,337.7 392.8,336.5 392.9,335.8 393.1,334.4 393.2,333.7 393.3,332.7 393.5,332.6 393.6,331.6 393.7,330.3 393.9,330.2 394.0,329.0 394.3,329.5 394.5,330.5 394.8,330.9 395.1,332.0 395.3,333.7 395.6,334.0 395.9,332.9 396.2,331.8 396.4,331.6 396.7,330.5 397.0,330.0 397.2,331.3 397.3,331.2 397.5,333.1 397.6,332.9 397.8,334.7 397.9,335.3 398.1,335.6 398.2,336.7 398.4,337.4 398.5,338.2 398.7,339.0 398.8,340.0 399.0,341.0 399.1,340.6 399.2,339.8 399.3,338.9 399.4,337.2 399.5,336.6 399.6,336.3 399.8,334.6 399.9,334.5 400.0,333.2 400.1,333.0 400.2,331.2 400.3,331.2 400.4,330.0 400.5,329.0 400.5,328.1 400.6,327.1 400.7,327.0 400.8,325.9 400.8,324.8 400.9,324.2 401.0,323.8 401.1,322.4 401.1,321.9 401.2,320.7 401.3,319.9 401.3,319.6 401.4,318.7 401.5,317.5 401.6,316.5 401.6,315.7 401.7,315.4 401.8,314.5 401.9,313.4 401.9,312.6 402.0,312.0 403.0,312.7 404.0,313.0 404.1,312.4 404.2,311.6 404.3,310.6 404.4,309.4 404.4,308.4 404.5,308.2 404.6,307.1 404.7,306.5 404.8,305.1 404.9,305.0 405.0,303.7 405.1,303.3 405.2,302.5 405.2,301.3 405.3,300.1 405.4,300.0 405.5,298.8 405.6,298.0 405.8,299.3 405.9,299.4 406.1,300.1 406.3,301.7 406.4,302.0 406.6,303.0 406.7,301.8 406.9,301.3 407.0,300.7 407.2,299.2 407.3,299.0 407.4,298.1 407.6,297.4 407.7,296.2 407.9,296.0 408.0,295.0 408.1,296.1 408.2,297.0 408.3,297.2 408.4,298.4 408.5,298.9 408.6,300.1 408.7,300.2 408.9,301.8 409.0,302.7 409.1,303.0 409.2,303.8 409.3,304.6 409.4,305.4 409.5,305.7 409.6,307.0 410.1,307.4 410.5,305.1 411.0,305.0 411.7,304.8 412.4,306.0 412.5,304.7 412.7,304.1 412.8,303.9 412.9,302.1 413.1,301.4 413.2,301.2 413.3,299.8 413.5,298.8 413.6,298.6 413.7,297.8 413.9,296.9 414.0,296.0 415.0,295.0 415.1,294.3 415.1,293.0 415.2,292.8 415.2,291.9 415.3,290.5 415.4,289.8 415.4,289.2 415.5,288.4 415.5,287.4 415.6,286.5 415.6,285.9 415.7,284.8 415.8,284.4 415.8,283.8 415.9,282.4 415.9,281.9 416.0,281.0 416.1,282.1 416.2,282.3 416.3,283.8 416.4,284.7 416.5,285.0 416.6,285.9 416.7,287.1 416.8,287.6 416.8,288.3 416.9,289.7 417.0,290.3 417.1,290.7 417.2,291.5 417.3,292.4 417.4,293.3 417.5,294.6 417.6,295.0 417.8,294.6 418.0,293.8 418.2,292.9 418.4,292.0 418.6,290.1 418.8,289.9 419.0,289.0 419.3,290.6 419.6,291.3 419.8,291.0 420.1,292.1 420.4,293.0 420.7,292.4 420.9,291.1 421.2,290.5 421.5,289.0 421.7,288.7 422.0,288.0 422.1,287.2 422.3,285.8 422.4,285.1 422.5,285.2 422.7,284.1 422.8,283.5 422.9,282.3 423.1,281.7 423.2,280.9 423.3,280.1 423.5,278.3 423.6,278.0 423.7,277.3 423.9,276.0 424.0,275.7 424.2,274.3 424.3,273.8 424.4,273.4 424.6,272.2 424.7,270.9 424.9,270.4 425.0,269.5 425.4,268.5 425.7,268.5 426.0,266.3 426.4,265.8 426.4,266.5 426.5,267.5 426.5,268.0 426.6,269.1 426.6,270.2 426.7,270.7 426.7,271.3 426.7,272.3 426.8,273.2 426.8,273.7 426.9,274.5 426.9,275.3 427.0,276.3 427.0,277.2 427.0,277.9 427.1,278.7 427.1,279.4 427.2,280.5 427.2,281.6 427.3,282.2 427.3,283.0 427.4,283.9 427.4,284.4 427.4,285.5 427.5,286.2 427.5,287.1 427.6,287.9 427.6,288.6 427.7,289.3 427.7,290.1 427.7,290.9 427.8,291.9 427.8,292.6 427.9,293.6 427.9,294.0 428.0,295.1 428.0,296.0 428.1,297.3 428.3,297.4 428.4,298.6 428.6,299.4 428.7,300.0 428.9,301.7 429.0,302.0 429.1,301.0 429.2,300.6 429.2,299.2 429.3,298.3 429.4,298.2 429.5,297.0 429.6,295.8 429.7,295.3 429.7,294.5 429.8,294.0 429.9,292.6 430.0,291.9 430.1,291.7 430.2,290.7 430.2,289.3 430.3,288.7 430.4,288.0 430.5,287.1 430.5,286.5 430.6,285.7 430.6,285.0 430.7,284.2 430.7,283.2 430.8,282.5 430.9,281.7 430.9,280.9 431.0,279.9 431.0,279.3 431.1,278.5 431.1,277.8 431.2,276.4 431.3,276.2 431.3,274.7 431.4,274.5 431.4,273.5 431.5,272.6 431.5,272.2 431.6,271.0 431.7,271.9 431.7,272.6 431.8,273.7 431.9,274.6 431.9,275.1 432.0,275.8 432.1,276.6 432.1,277.4 432.2,278.5 432.3,278.9 432.3,279.8 432.4,280.8 432.5,281.4 432.5,282.2 432.6,283.4 432.7,284.2 432.7,284.8 432.8,285.5 432.9,286.1 432.9,287.0 433.0,288.0 433.1,288.5 433.2,289.7 433.2,290.6 433.3,291.0 433.4,292.5 433.5,292.8 433.6,294.1 433.7,295.0 433.8,295.9 433.8,296.1 433.9,297.1 434.0,298.0 434.1,297.6 434.2,295.9 434.3,295.1 434.4,294.8 434.5,293.9 434.6,293.5 434.7,292.5 434.8,291.4 434.8,291.1 434.9,289.8 435.0,289.0 435.1,288.3 435.2,287.2 435.3,286.3 435.4,285.7 435.5,284.7 435.6,284.0 435.7,285.3 435.8,285.9 435.9,286.6 436.1,287.0 436.2,288.2 436.3,289.0 436.4,290.0 436.4,289.2 436.4,288.4 436.5,287.8 436.5,287.1 436.5,286.0 436.5,285.2 436.5,284.5 436.6,283.9 436.6,282.7 436.6,282.0 436.6,281.4 436.6,280.2 436.7,279.5 436.7,279.1 436.7,278.2 436.7,277.2 436.7,276.2 436.8,275.9 436.8,274.9 436.8,274.2 436.8,273.5 436.8,272.6 436.9,271.5 436.9,270.6 436.9,269.9 436.9,269.2 436.9,268.4 437.0,267.4 437.0,266.6 437.0,266.0 437.1,265.3 437.1,264.5 437.2,263.5 437.3,263.2 437.3,262.1 437.4,260.8 437.5,260.3 437.5,259.8 437.6,258.6 437.7,258.2 437.7,256.8 437.8,256.2 437.9,255.9 437.9,254.9 438.0,254.0 438.2,253.4 438.5,251.9 438.7,251.5 438.9,250.7 439.2,249.5 439.4,249.0 439.5,248.3 439.6,247.3 439.7,246.9 439.8,245.7 439.9,244.7 440.0,243.6 440.0,242.8 440.1,242.5 440.2,241.0 440.3,240.2 440.4,239.4 440.5,238.9 440.6,238.0 440.7,239.1 440.7,239.7 440.8,240.7 440.9,240.9 440.9,241.7 441.0,243.1 441.0,243.5 441.1,244.7 441.2,245.2 441.2,245.9 441.3,246.7 441.4,247.4 441.4,248.9 441.5,249.4 441.5,250.1 441.6,251.0 441.7,250.1 441.7,249.3 441.8,248.2 441.9,248.1 442.0,247.0 442.0,246.5 442.1,245.2 442.2,244.6 442.3,243.4 442.3,242.4 442.4,242.0 442.4,241.5 442.5,240.7 442.5,239.5 442.6,239.1 442.6,238.2 442.6,237.1 442.7,236.5 442.7,235.9 442.8,234.8 442.8,234.3 442.8,233.0 442.9,232.3 442.9,231.8 443.0,230.6 443.0,229.9 443.0,229.5 443.1,228.4 443.1,227.8 443.2,226.6 443.2,225.8 443.2,225.1 443.3,224.2 443.3,223.9 443.4,222.6 443.4,222.0 443.4,220.9 443.5,220.4 443.5,219.5 443.6,218.7 443.6,218.0 444.2,218.0 444.8,220.0 444.9,218.8 445.0,218.6 445.0,217.4 445.1,216.5 445.2,215.6 445.3,214.8 445.4,214.0 445.4,213.0 445.5,212.7 445.6,211.6 445.7,210.6 445.8,210.3 445.8,208.9 445.9,208.2 446.0,207.6 446.1,208.7 446.1,208.9 446.2,210.0 446.3,211.1 446.3,211.9 446.4,212.1 446.5,213.1 446.6,214.2 446.6,214.7 446.7,216.0 446.8,216.2 446.8,217.6 446.9,218.0 447.0,218.6 447.0,219.6 447.1,220.1 447.2,221.4 447.3,221.8 447.3,223.1 447.4,223.7 447.5,224.3 447.5,225.0 447.6,226.0 447.6,225.3 447.7,224.2 447.7,223.9 447.8,222.5 447.8,222.0 447.8,221.2 447.9,220.2 447.9,219.8 448.0,218.7 448.0,218.1 448.0,217.2 448.1,216.3 448.1,215.5 448.2,214.5 448.2,213.8 448.2,213.5 448.3,212.3 448.3,211.7 448.4,210.5 448.4,210.0 448.4,209.1 448.5,208.4 448.5,207.5 448.6,206.5 448.6,206.0 448.7,205.1 448.7,204.2 448.8,203.3 448.8,203.0 448.9,201.8 448.9,201.1 449.0,200.7 449.0,199.8 449.1,199.1 449.1,198.3 449.2,196.9 449.2,196.2 449.2,195.2 449.3,194.9 449.4,194.1 449.4,193.1 449.5,192.3 449.5,191.7 449.6,191.0 449.6,190.0 449.6,189.0 449.7,188.6 449.7,187.4 449.7,186.8 449.8,185.6 449.8,184.7 449.8,184.5 449.9,183.5 449.9,182.6 449.9,181.3 450.0,180.5 450.0,180.0 450.1,178.8 450.2,178.1 450.3,177.4 450.4,176.7 450.6,175.5 450.7,175.0 450.8,174.5 450.9,173.2 451.0,173.1 451.1,172.0 451.2,171.4 451.3,170.1 451.4,169.5 451.5,168.9 451.7,167.8 451.8,166.6 451.9,166.7 452.0,165.8 452.1,164.7 452.1,163.7 452.2,162.7 452.2,162.5 452.2,161.5 452.3,160.3 452.3,159.6 452.4,158.7 452.4,158.3 452.4,157.1 452.5,156.8 452.5,155.8 452.6,154.6 452.6,154.2 452.6,153.1 452.7,152.6 452.7,151.8 452.7,150.6 452.8,149.6 452.8,149.4 452.9,148.2 452.9,147.8 452.9,146.8 453.0,146.0 453.0,145.0 453.0,144.4 453.0,143.5 453.0,142.5 453.1,141.5 453.1,141.1 453.1,140.1 453.1,139.3 453.1,138.8 453.1,137.5 453.1,137.1 453.2,135.8 453.2,135.4 453.2,134.7 453.2,133.5 453.2,132.9 453.2,132.3 453.2,131.3 453.2,130.4 453.3,129.5 453.3,128.5 453.3,127.9 453.3,127.1 453.3,126.2 453.3,125.4 453.3,124.5 453.4,124.1 453.4,123.2 453.4,122.2 453.4,121.5 453.5,122.1 453.5,123.2 453.6,124.0 453.7,125.3 453.8,125.7 453.8,126.5 453.9,127.9 454.0,128.1 454.1,129.3 454.1,130.0 454.2,131.0 454.3,130.4 454.3,129.4 454.4,128.8 454.5,127.5 454.5,127.0 454.6,126.2 454.6,125.2 454.7,124.7 454.8,123.9 454.8,122.5 454.9,122.0 454.9,121.0 455.0,120.3 455.0,119.3 455.1,118.4 455.1,117.8 455.1,116.9 455.2,116.4 455.2,115.4 455.3,114.4 455.3,113.7 455.4,113.0 455.4,112.1 455.4,111.1 455.5,110.2 455.5,109.4 455.6,109.3 455.6,108.3 455.6,107.0 455.7,106.6 455.7,106.0 455.8,104.9 455.8,104.0 455.8,102.9 455.9,102.3 455.9,101.5 456.0,100.5 456.0,99.9 456.1,98.7 456.1,98.5 456.1,97.5 456.2,96.7 456.2,96.1 456.3,95.0 456.3,93.9 456.4,93.1 456.4,92.2 456.5,91.3 456.5,91.0 456.5,90.2 456.6,89.0 456.6,88.1 456.7,87.6 456.7,86.9 456.8,86.1 456.8,85.0 456.8,84.0 456.9,83.6 456.9,82.8 456.9,81.9 456.9,80.9 456.9,80.0 457.0,79.6 457.0,78.4 457.0,77.7 457.1,77.0 457.1,76.0 457.1,75.5 457.1,74.3 457.1,73.4 457.2,73.0 457.2,72.1 457.2,73.0 457.3,74.0 457.3,74.7 457.4,75.7 457.4,76.5 457.5,77.0 457.5,77.8 457.6,78.4 457.6,79.3 457.7,80.3 457.7,80.8 457.8,82.0 457.8,82.5 457.9,83.5 457.9,84.7 457.9,84.9 458.0,85.6 458.0,86.8 458.1,87.4 458.1,88.6 458.2,88.9 458.2,90.3 458.3,91.2 458.3,91.9 458.4,92.5 458.4,93.2 458.5,94.3 458.5,95.0 458.6,95.7 458.6,96.6 458.7,95.7 458.7,94.9 458.8,94.3 458.8,93.6 458.9,92.9 458.9,91.5 458.9,90.8 459.0,90.1 459.1,89.3 459.1,88.4 459.2,87.4 459.2,86.5 459.2,85.9 459.3,85.2 459.4,84.8 459.4,83.9 459.4,83.1 459.5,82.0 459.6,81.6 459.6,80.8 459.7,79.7 459.8,79.0 459.8,77.6 459.9,77.3 459.9,76.4 460.0,75.3 460.1,74.7 460.1,74.2 460.2,73.0 460.2,72.4 460.3,71.3 460.4,70.5 460.4,70.1 460.5,69.0 460.6,69.5 460.6,70.4 460.7,71.7 460.8,72.3 460.8,72.9 460.9,74.2 461.0,74.8 461.1,75.8 461.1,76.5 461.2,77.5 461.3,78.4 461.3,79.1 461.4,80.0 461.4,80.5 461.4,81.4 461.5,82.7 461.5,83.2 461.5,83.7 461.5,85.0 461.6,85.4 461.6,86.1 461.6,87.2 461.6,87.8 461.7,88.8 461.7,89.6 461.7,90.2 461.7,91.2 461.8,91.7 461.8,92.8 461.8,93.7 461.8,94.1 461.8,95.1 461.9,95.7 461.9,96.8 461.9,97.8 461.9,98.4 462.0,99.3 462.0,100.2 462.0,100.5 462.0,101.9 462.1,102.5 462.1,102.9 462.1,104.0 462.2,103.5 462.2,102.3 462.3,101.3 462.4,101.1 462.4,100.0 462.5,99.3 462.6,98.0 462.6,97.7 462.7,96.3 462.8,95.6 462.9,94.9 462.9,93.8 463.0,93.5 463.1,92.3 463.1,91.6 463.2,91.1 463.3,90.1 463.3,89.6 463.4,88.5 463.5,89.4 463.5,90.5 463.6,91.0 463.7,92.1 463.7,92.9 463.8,93.1 463.9,94.4 463.9,94.9 464.0,96.1 464.1,96.9 464.1,97.8 464.2,98.0 464.3,99.1 464.3,100.2 464.4,100.8 464.7,100.4 465.0,98.7 465.0,99.6 465.0,100.0 465.1,101.2 465.1,101.7 465.1,102.8 465.1,103.7 465.1,104.1 465.1,105.4 465.2,106.1 465.2,106.6 465.2,107.4 465.2,108.4 465.2,109.4 465.2,110.1 465.3,110.6 465.3,111.3 465.3,112.2 465.3,113.4 465.3,113.9 465.3,114.9 465.4,115.5 465.4,116.6 465.4,117.2 465.4,117.9 465.4,119.1 465.4,119.7 465.5,120.6 465.5,121.5 465.5,122.4 465.5,122.7 465.5,123.7 465.5,124.4 465.6,125.4 465.6,126.4 465.6,127.0 465.6,126.4 465.6,125.1 465.6,124.4 465.6,124.0 465.7,123.1 465.7,122.1 465.7,121.4 465.7,120.4 465.7,120.0 465.7,118.9 465.7,118.4 465.7,117.4 465.8,116.3 465.8,115.6 465.8,114.8 465.8,114.4 465.8,113.4 465.8,112.2 465.8,111.5 465.8,110.8 465.8,110.1 465.9,109.3 465.9,108.4 465.9,107.6 465.9,106.6 465.9,106.1 465.9,105.2 465.9,104.2 465.9,103.6 465.9,103.2 466.0,101.8 466.0,101.0 466.0,100.5 466.0,99.5 466.0,98.7 466.0,98.0 466.0,97.1 466.0,96.5 466.1,95.6 466.1,95.1 466.1,94.3 466.1,92.9 466.1,92.4 466.1,93.3 466.1,94.2 466.2,95.1 466.2,95.8 466.2,96.5 466.2,97.4 466.3,98.0 466.3,98.7 466.3,99.9 466.3,100.8 466.3,101.6 466.4,102.3 466.4,102.8 466.4,103.9 466.4,104.7 466.5,105.4 466.5,106.3 466.5,107.0 466.7,107.7 466.9,108.8 467.0,109.5 467.2,109.9 467.4,111.3 467.6,112.0 467.7,112.9 467.9,114.5 468.1,114.8 468.2,115.6 468.4,116.6 468.4,117.3 468.5,118.1 468.5,119.0 468.5,119.7 468.6,120.5 468.6,121.9 468.6,122.4 468.6,123.3 468.7,124.2 468.7,124.8 468.7,125.6 468.8,126.4 468.8,127.4 468.8,128.2 468.9,129.3 468.9,130.0 468.9,130.8 469.0,131.9 469.0,132.3 469.0,133.5 469.0,134.1 469.1,134.6 469.1,135.5 469.1,136.5 469.1,137.6 469.2,138.0 469.2,139.1 469.2,139.7 469.2,140.8 469.3,141.1 469.3,142.2 469.3,143.2 469.3,143.6 469.4,144.4 469.4,145.1 469.4,146.0 469.4,146.9 469.5,148.0 469.5,148.5 469.5,149.4 469.5,150.1 469.6,151.2 469.6,152.1 469.6,152.8 469.6,153.3 469.7,154.5 469.7,155.5 469.7,156.0 469.7,156.5 469.8,157.8 469.8,158.4 469.9,157.9 469.9,156.6 470.0,155.6 470.1,154.8 470.1,154.2 470.2,153.7 470.3,152.6 470.4,152.0 470.4,150.6 470.5,150.0 471.3,149.0 471.3,148.1 471.3,147.5 471.3,146.7 471.4,145.7 471.4,145.1 471.4,144.0 471.4,143.1 471.4,142.5 471.4,141.4 471.4,141.0 471.5,140.0 471.5,139.3 471.5,138.5 471.5,137.5 471.5,136.8 471.5,135.7 471.5,135.5 471.6,134.5 471.6,133.9 471.6,132.5 471.6,132.0 471.6,131.3 471.7,130.5 471.7,129.5 471.7,128.5 471.7,127.7 471.8,126.9 471.8,126.5 471.8,125.2 471.8,124.9 471.9,123.8 471.9,123.1 471.9,122.3 471.9,121.5 472.0,120.8 472.0,119.9 472.0,118.9 472.0,118.4 472.1,117.2 472.1,116.6 472.1,115.9 472.1,115.2 472.2,114.4 472.2,113.2 472.2,112.7 472.2,112.1 472.3,110.9 472.3,110.0 472.3,109.4 472.3,108.8 472.4,107.5 472.4,106.6 472.4,106.1 472.4,105.4 472.5,104.7 472.5,103.6 472.5,103.2 472.5,101.9 472.5,101.4 472.6,100.2 472.6,99.4 472.6,98.6 472.6,97.8 472.7,97.2 472.7,96.5 472.7,95.4 472.7,95.1 472.8,93.9 472.8,93.0 472.8,92.4 472.8,91.4 472.9,90.9 472.9,90.2 472.9,88.9 472.9,88.0 473.0,87.7 473.0,86.5 473.0,86.2 473.0,85.0 473.1,84.3 473.1,83.3 473.1,82.7 473.2,81.7 473.2,80.8 473.2,80.4 473.2,79.0 473.3,78.6 473.3,77.3 473.3,76.9 473.3,75.9 473.4,75.4 473.4,74.0 473.4,73.6 473.5,72.6 473.5,72.1 473.5,71.3 473.5,70.3 473.6,69.2 473.6,68.4 473.6,67.6 473.6,66.9 473.7,65.9 473.7,65.3 474.4,66.0 474.4,66.6 474.5,67.8 474.5,68.5 474.6,69.1 474.6,70.4 474.7,70.6 474.8,71.7 474.8,72.2 474.9,73.5 474.9,74.3 474.9,74.7 475.0,75.9 475.1,76.7 475.1,77.1 475.1,78.0 475.2,78.9 475.2,80.0 475.3,80.5 475.3,81.1 475.4,82.3 475.4,83.1 475.4,83.8 475.4,84.7 475.5,85.8 475.5,86.1 475.5,87.4 475.6,87.9 475.6,89.0 475.6,89.9 475.6,90.3 475.7,91.6 475.7,92.5 475.7,92.9 475.7,93.5 475.8,94.4 475.8,95.5 475.8,96.6 475.8,96.8 475.8,98.2 475.9,98.6 475.9,99.7 475.9,100.2 475.9,101.0 475.9,102.2 475.9,102.6 475.9,103.6 476.0,104.8 476.0,105.5 476.0,106.4 476.0,107.3 476.0,107.5 476.0,108.4 476.0,109.6 476.1,110.4 476.1,110.8 476.1,111.9 476.1,112.5 476.1,113.5 476.1,114.1 476.1,114.9 476.1,116.3 476.2,116.7 476.2,117.9 476.2,118.2 476.2,119.3 476.2,119.9 476.2,120.9 476.2,121.5 476.3,122.7 476.3,123.1 476.3,124.3 476.3,125.0 476.3,125.8 476.3,126.4 476.3,127.3 476.3,128.2 476.4,129.3 476.4,129.7 476.4,130.4 476.4,131.7 476.4,132.5 476.4,133.2 476.4,133.7 476.4,134.4 476.4,135.3 476.5,136.0 476.5,136.8 476.5,137.8 476.5,138.6 476.5,139.5 476.5,140.2 476.5,140.8 476.5,142.0 476.5,142.8 476.5,143.5 476.6,144.3 476.6,145.2 476.6,146.2 476.6,146.9 476.6,147.6 476.6,148.2 476.6,149.0 476.6,149.8 476.6,151.0 476.7,151.4 476.7,152.2 476.7,153.0 476.7,153.7 476.7,154.7 476.7,154.3 476.8,152.8 476.8,152.4 476.8,151.8 476.9,150.5 476.9,150.0 476.9,149.0 477.0,148.1 477.0,147.3 477.0,146.4 477.1,146.1 477.1,145.3 477.2,144.6 477.2,143.2 477.2,142.8 477.3,141.8 477.3,141.2 477.3,140.3 477.4,139.4 477.4,139.0 477.4,137.5 477.5,137.3 477.5,136.3 477.6,137.5 477.7,138.0 477.8,138.9 477.9,140.2 478.1,140.2 478.2,141.5 478.3,142.4 478.4,143.0 478.4,142.1 478.5,141.5 478.5,140.5 478.6,139.8 478.6,139.0 478.7,138.3 478.8,137.2 478.8,136.6 478.8,135.7 478.9,134.7 478.9,134.1 479.0,133.1 479.1,132.8 479.1,131.6 479.1,131.0 479.2,130.0 479.2,129.2 479.3,128.3 479.3,127.3 479.3,126.4 479.4,126.1 479.4,125.0 479.4,124.2 479.5,123.4 479.5,122.7 479.5,121.5 479.6,120.6 479.6,120.2 479.6,119.1 479.7,118.4 479.7,117.7 479.7,116.9 479.8,116.1 479.8,115.0 479.8,113.9 479.9,113.3 479.9,112.8 479.9,112.0 479.9,110.7 480.0,110.0 480.0,109.2 480.0,108.3 480.0,107.7 480.1,107.2 480.1,106.2 480.1,105.4 480.1,104.3 480.2,103.7 480.2,103.3 480.2,102.3 480.2,101.4 480.3,100.6 480.3,100.0 480.3,99.2 480.3,98.0 480.4,97.5 480.4,96.5 480.4,95.8 480.4,94.8 480.5,94.1 480.5,93.4 480.5,92.5 480.6,91.7 480.6,90.6 480.7,90.0 480.7,89.5 480.8,88.3 480.8,87.6 480.9,87.2 480.9,86.0 481.0,85.3 481.0,84.4 481.1,84.1 481.1,82.7 481.1,82.3 481.2,81.7 481.2,80.4 481.3,79.7 481.3,79.2 481.4,78.3 481.4,77.3 481.5,76.3 481.5,75.8 481.6,74.9 481.6,74.2 481.6,75.2 481.7,75.7 481.7,76.6 481.7,77.6 481.8,78.6 481.8,79.1 481.8,79.9 481.9,80.9 481.9,82.0 481.9,82.3 481.9,83.7 482.0,84.3 482.0,84.9 482.0,86.0 482.1,86.6 482.1,87.2 482.1,88.5 482.2,89.1 482.2,90.0 482.2,89.2 482.2,88.3 482.3,87.8 482.3,86.8 482.3,85.5 482.3,85.1 482.3,84.2 482.4,83.3 482.4,82.7 482.4,81.6 482.4,80.8 482.5,80.3 482.5,79.2 482.5,78.4 482.5,77.5 482.5,76.9 482.6,76.0 482.6,75.2 482.6,74.2 482.7,74.9 482.7,75.5 482.8,76.8 482.8,77.5 482.9,78.5 483.0,79.3 483.0,79.6 483.1,80.5 483.1,81.2 483.2,82.6 483.2,82.9 483.3,84.0 483.3,82.9 483.4,82.5 483.4,81.6 483.4,80.5 483.4,80.1 483.4,79.3 483.5,78.3 483.5,77.2 483.5,76.8 483.6,75.8 483.6,75.1 483.6,74.6 483.6,73.6 483.7,72.9 483.7,71.6 483.7,70.9 483.7,70.2 483.8,69.0 483.8,68.9 483.8,67.6 483.8,66.8 483.9,66.0 483.9,65.2 483.9,64.7 483.9,63.7 483.9,62.9 484.0,62.0 484.0,61.0 484.0,60.3 484.1,59.9 484.1,59.0 484.1,58.2 484.1,57.0 484.1,56.2 484.2,55.3 484.2,54.8 484.2,53.9 484.2,53.1 484.3,52.3 484.3,51.6 484.3,50.6 484.4,50.1 484.4,48.9 484.4,48.5 484.4,47.5 484.4,46.3 484.5,45.7 484.5,45.0 484.5,45.8 484.6,46.6 484.6,47.5 484.6,48.1 484.7,48.9 484.7,50.1 484.7,50.5 484.8,51.6 484.8,52.5 484.8,53.2 484.8,53.9 484.9,55.0 484.9,55.5 484.9,56.6 485.0,56.9 485.0,58.0 485.0,58.9 485.1,59.3 485.1,60.7 485.1,61.0 485.2,62.1 485.2,62.7 485.2,64.0 485.2,64.5 485.3,65.5 485.3,66.1 485.3,67.1 485.4,67.9 485.4,68.4 485.4,69.2 485.5,70.4 485.5,71.0 485.5,71.6 485.6,72.9 485.6,73.3 485.6,74.0 485.6,74.8 485.7,76.1 485.7,77.0 485.7,77.5 485.7,78.5 485.8,79.0 485.8,80.3 485.8,80.9 485.8,81.4 485.9,82.1 485.9,83.4 485.9,83.8 486.0,85.1 486.0,85.6 486.0,86.3 486.0,87.4 486.1,88.0 486.1,89.0 486.1,89.6 486.1,90.9 486.2,91.3 486.2,92.5 486.2,92.8 486.2,94.1 486.3,95.0 486.3,95.5 486.3,96.2 486.4,96.8 486.4,97.8 486.5,98.8 486.5,99.4 486.6,100.4 486.6,100.9 486.6,102.0 486.7,103.0 486.7,103.6 486.8,104.6 486.8,105.0 486.9,106.3 486.9,106.6 486.9,108.0 487.0,108.8 487.0,109.6 487.1,110.1 487.1,110.8 487.1,111.6 487.2,112.7 487.2,113.4 487.3,114.5 487.3,114.7 487.4,115.8 487.4,116.6 487.4,117.7 487.5,118.4 487.5,119.2 487.6,119.6 487.6,120.5 487.7,121.5 487.8,122.8 487.8,123.6 487.8,124.0 487.9,125.0 487.9,126.1 487.9,126.3 488.0,127.5 488.0,128.5 488.0,128.9 488.0,130.1 488.1,130.7 488.1,131.1 488.1,132.1 488.1,133.0 488.2,133.6 488.2,134.8 488.2,135.2 488.2,136.4 488.2,136.9 488.3,137.5 488.3,138.6 488.3,139.1 488.3,140.2 488.4,141.2 488.4,141.9 488.4,142.6 488.4,143.1 488.5,144.2 488.5,144.7 488.5,145.9 488.5,146.4 488.6,147.5 488.6,148.1 488.6,149.0 488.7,149.7 488.7,150.8 488.8,151.2 488.8,152.0 488.9,153.4 488.9,153.8 488.9,155.0 489.0,155.8 489.1,156.3 489.1,156.9 489.2,157.7 489.2,159.1 489.2,159.3 489.3,160.4 489.4,161.3 489.4,161.8 489.4,162.9 489.5,163.7 489.5,162.7 489.6,162.1 489.6,161.3 489.6,160.4 489.7,159.4 489.7,158.8 489.7,157.8 489.7,157.0 489.8,156.2 489.8,155.8 489.8,154.8 489.9,154.2 489.9,152.8 489.9,152.6 490.0,151.5 490.0,150.9 490.0,150.0 490.1,149.2 490.1,148.1 490.1,147.6 490.1,146.4 490.2,145.7 490.2,144.7 490.2,144.2 490.3,143.4 490.3,142.6 490.4,143.3 490.4,144.6 490.5,144.8 490.6,146.1 490.6,146.6 490.7,147.8 490.8,148.8 490.8,149.5 490.9,149.9 491.0,150.9 491.0,152.0 491.1,153.2 491.2,153.2 491.2,154.6 491.3,155.3 491.3,154.6 491.3,153.9 491.3,152.8 491.3,152.2 491.3,151.2 491.4,150.7 491.4,149.4 491.4,149.1 491.4,148.0 491.4,147.2 491.4,146.2 491.4,145.4 491.4,144.9 491.4,144.1 491.4,143.0 491.4,142.3 491.4,141.3 491.5,140.6 491.5,139.8 491.5,139.0 491.5,138.6 491.5,137.8 491.5,136.9 491.5,135.9 491.5,135.1 491.5,134.4 491.5,133.7 491.5,132.8 491.5,131.9 491.6,130.9 491.6,130.3 491.6,129.6 491.6,128.8 491.6,127.6 491.6,127.0 491.6,126.3 491.7,125.3 491.7,124.3 491.7,124.0 491.7,123.0 491.8,122.2 491.8,121.0 491.8,120.6 491.9,119.9 491.9,119.1 491.9,118.1 491.9,117.4 492.0,116.5 492.0,115.6 492.0,114.6 492.1,114.1 492.1,113.2 492.1,112.5 492.1,111.3 492.2,110.9 492.2,109.8 492.2,109.2 492.3,107.8 492.3,107.6 492.3,106.7 492.3,105.5 492.4,105.0 492.4,104.0 492.5,104.6 492.6,105.4 492.6,106.5 492.7,107.1 492.8,108.2 492.9,109.4 493.0,110.0 493.0,110.9 493.1,111.5 493.2,112.4 493.9,111.3 493.9,112.3 494.0,113.1 494.0,113.9 494.1,114.9 494.1,115.6 494.2,116.1 494.2,116.6 494.3,117.9 494.3,118.8 494.4,119.2 494.4,120.2 494.5,121.2 494.5,122.0 494.6,122.2 494.6,123.4 494.7,123.8 494.7,125.0 494.8,125.5 494.8,126.9 494.9,127.4 494.9,128.4 495.0,129.1 495.0,129.8 495.1,130.5 495.1,131.4 495.2,132.6 495.2,133.3 495.3,134.0 495.4,133.0 495.4,131.9 495.5,131.2 495.6,130.7 495.6,129.6 495.7,128.9 495.7,128.1 495.8,127.0 496.0,127.6 496.1,129.2 496.3,130.0 496.3,130.5 496.3,131.8 496.3,132.2 496.3,133.1 496.4,134.3 496.4,134.7 496.4,135.5 496.4,136.7 496.4,137.3 496.4,138.3 496.4,138.8 496.4,139.6 496.5,140.7 496.5,141.2 496.5,142.3 496.5,142.7 496.5,143.8 496.5,144.2 496.5,145.3 496.5,145.7 496.6,146.7 496.6,147.9 496.6,148.4 496.6,149.4 496.6,149.9 496.6,150.8 496.6,151.4 496.6,152.5 496.6,153.5 496.7,154.1 496.7,154.8 496.7,155.9 496.7,156.7 496.7,157.4 496.7,157.8 496.7,159.0 496.7,159.7 496.8,160.8 496.8,161.2 496.8,162.2 496.8,163.0 496.8,163.7 496.8,162.8 496.8,162.1 496.8,161.3 496.8,160.7 496.9,159.6 496.9,158.7 496.9,158.2 496.9,156.9 496.9,156.5 496.9,155.6 496.9,154.7 496.9,153.8 496.9,153.2 497.0,152.5 497.0,151.5 497.0,150.7 497.0,149.5 497.0,148.8 497.0,147.9 497.0,147.6 497.0,146.7 497.1,145.4 497.1,144.9 497.1,144.1 497.1,142.9 497.1,142.3 497.1,141.7 497.1,140.8 497.1,139.8 497.1,139.3 497.2,138.2 497.2,137.5 497.2,136.6 497.2,136.1 497.2,135.0 497.2,134.3 497.3,133.6 497.3,132.7 497.3,131.6 497.4,131.2 497.4,130.2 497.5,129.4 497.5,128.3 497.5,127.4 497.6,126.9 497.6,126.0 497.6,127.0 497.6,127.8 497.6,128.3 497.6,129.0 497.6,130.0 497.6,131.1 497.6,131.4 497.6,132.6 497.6,133.1 497.6,134.0 497.6,134.6 497.7,135.6 497.7,136.4 497.7,137.5 497.7,138.4 497.7,138.7 497.7,139.6 497.7,140.8 497.7,141.1 497.7,142.0 497.7,142.9 497.7,143.5 497.7,144.4 497.7,145.3 497.7,146.1 497.7,147.2 497.7,147.6 497.7,148.4 497.7,149.6 497.7,150.2 497.7,151.2 497.7,151.9 497.7,152.8 497.8,153.3 497.8,154.0 497.8,155.2 497.8,155.8 497.8,156.7 497.8,157.5 497.8,158.4 497.8,158.9 497.8,159.8 497.8,160.9 497.8,161.5 497.8,162.1 497.8,163.1 497.8,163.7 497.8,164.8 497.8,165.2 497.8,166.5 497.8,167.1 497.8,167.8 497.8,169.0 497.8,169.4 497.8,170.2 497.9,170.9 497.9,172.0 497.9,172.9 497.9,173.7 497.9,174.3 497.9,175.3 497.9,175.7 497.9,176.7 497.9,177.7 497.9,178.7 497.9,179.3 497.9,180.0 497.9,180.9 497.9,181.8 497.9,182.4 497.9,183.5 497.9,184.2 497.9,184.8 497.9,185.6 497.9,186.6 497.9,187.2 497.9,187.9 497.9,189.1 497.9,189.7 497.9,190.5 498.0,191.4 498.0,192.3 498.0,192.7 498.0,193.6 498.0,194.3 498.0,195.3 498.0,196.2 498.0,197.2 498.0,197.9 498.0,198.6 498.0,199.3 498.0,200.2 498.0,200.9 498.0,202.0 498.0,202.8 498.0,203.6 498.0,204.0 498.0,205.1 498.0,206.0 498.0,206.7 498.0,207.7 498.0,208.5 498.0,209.2 498.0,210.1 498.0,210.8 498.1,211.7 498.1,212.1 498.1,213.2 498.1,214.0 498.1,214.8 498.1,215.4 498.1,216.1 498.1,217.2 498.1,218.1 498.1,218.6 498.1,219.4 498.1,220.2 498.1,221.0 498.1,222.0 498.1,222.9 498.1,223.9 498.2,224.6 498.2,225.1 498.2,226.1 498.2,226.6 498.2,227.8 498.2,228.3 498.2,228.9 498.3,230.1 498.3,230.6 498.3,231.5 498.3,232.2 498.3,233.2 498.4,234.1 498.4,235.1 498.4,235.4 498.4,236.7 498.4,237.0 498.4,237.9 498.4,239.0 498.5,239.6 498.5,240.4 498.5,241.3 498.5,240.5 498.6,239.5 498.6,239.1 498.7,237.8 498.7,237.5 498.8,236.6 498.8,235.6 498.9,234.4 498.9,234.2 499.0,232.8 499.0,232.4 499.0,231.5 499.1,230.4 499.1,230.0 499.2,229.3 499.2,228.3 499.3,227.4 499.3,226.7 499.4,225.9 499.4,224.8 499.5,224.5 499.5,223.4 499.5,224.6 499.6,225.3 499.6,226.2 499.7,226.6 499.7,227.9 499.7,228.1 499.8,229.2 499.8,229.8 499.9,230.8 499.9,231.8 499.9,232.7 500.0,233.3 500.0,234.1 500.1,234.8 500.1,235.8 500.1,236.5 500.2,237.3 500.2,238.5 500.3,239.2 500.3,240.0 500.4,239.1 500.4,238.0 500.5,237.6 500.6,236.3 500.6,235.5 500.7,234.8 500.8,234.1 500.9,233.4 500.9,232.4 501.0,231.3 501.0,232.4 501.0,233.2 501.1,233.9 501.1,234.8 501.1,235.2 501.1,236.1 501.2,236.8 501.2,238.2 501.2,238.9 501.2,239.7 501.3,240.3 501.3,241.1 501.3,241.8 501.3,243.0 501.4,244.0 501.4,244.4 501.4,245.1 501.4,246.0 501.5,246.9 501.5,248.1 501.5,248.9 501.5,249.5 501.6,250.1 501.6,250.9 501.6,252.0 502.1,252.3 502.6,254.0 502.7,255.0 502.7,255.6 502.8,256.8 502.8,257.5 502.9,258.2 502.9,258.8 503.0,259.9 503.0,260.1 503.1,260.9 503.1,262.1 503.2,262.8 503.3,263.4 503.3,264.2 503.4,264.8 503.4,266.3 503.5,267.0 503.5,268.0 503.6,268.8 503.6,269.1 503.7,270.0 503.7,269.3 503.7,268.3 503.8,267.8 503.8,267.0 503.8,265.8 503.8,264.9 503.8,264.2 503.9,263.7 503.9,262.7 503.9,261.7 503.9,261.4 503.9,260.6 504.0,259.6 504.0,258.5 504.0,258.2 504.0,257.2 504.0,256.1 504.1,255.5 504.1,254.9 504.1,254.2 504.1,253.2 504.1,252.5 504.2,251.4 504.2,250.6 504.2,250.3 504.2,249.1 504.2,248.1 504.3,247.7 504.3,246.6 504.3,245.8 504.3,245.2 504.3,244.5 504.4,243.7 504.4,242.9 504.4,242.0 505.3,242.0 505.3,242.8 505.4,243.3 505.4,244.6 505.4,244.9 505.4,246.0 505.5,246.8 505.5,247.8 505.5,248.6 505.5,249.1 505.6,250.2 505.6,251.0 505.6,251.7 505.6,252.3 505.7,253.6 505.7,254.2 505.7,254.6 505.8,255.6 505.8,256.9 505.8,257.2 505.8,258.1 505.9,259.2 505.9,260.0 505.9,260.7 505.9,261.5 506.0,261.9 506.0,263.0 506.0,263.5 506.1,265.0 506.1,265.7 506.1,266.0 506.2,266.8 506.2,267.8 506.2,269.1 506.3,269.4 506.3,270.6 506.3,271.6 506.4,272.2 506.4,273.2 506.5,273.6 506.5,274.3 506.5,275.1 506.6,276.4 506.6,276.8 506.6,278.2 506.7,278.8 506.7,279.3 506.7,280.6 506.8,280.9 506.8,282.0 506.8,281.2 506.9,280.1 506.9,279.7 506.9,279.0 507.0,278.2 507.0,276.7 507.1,276.5 507.1,275.5 507.1,274.8 507.2,273.8 507.2,273.1 507.2,272.2 507.3,271.5 507.3,270.2 507.4,269.4 507.4,268.9 507.4,267.9 507.5,267.1 507.5,266.4 507.8,266.4 508.1,268.6 508.4,269.0 508.4,269.5 508.5,270.8 508.5,271.6 508.5,272.2 508.6,272.7 508.6,273.9 508.7,274.4 508.7,275.3 508.7,275.9 508.8,277.3 508.8,277.8 508.8,278.5 508.9,279.1 508.9,280.4 508.9,281.2 509.0,282.0 509.0,282.3 509.0,283.3 509.1,284.1 509.1,285.2 509.2,285.6 509.2,286.7 509.2,287.7 509.3,288.4 509.3,289.0 509.4,287.8 509.4,287.1 509.5,286.3 509.5,285.9 509.6,285.1 509.6,284.2 509.7,283.4 509.7,282.5 509.8,281.9 509.8,281.1 509.9,280.5 509.9,279.6 510.0,278.8 510.0,278.1 510.1,277.3 510.1,276.4 510.2,275.0 510.2,274.7 510.3,274.1 510.3,272.9 510.4,272.5 510.4,271.2 510.5,270.9 510.5,269.8 510.6,269.0 511.0,268.6 511.5,266.7 511.9,266.4 511.9,267.1 512.0,267.9 512.0,268.7 512.1,269.3 512.1,270.4 512.1,271.6 512.2,272.1 512.2,273.1 512.3,273.8 512.3,274.6 512.4,275.6 512.4,276.2 512.4,276.6 512.5,277.4 512.5,278.3 512.6,278.8 512.6,280.0 512.6,280.6 512.7,281.9 512.7,282.7 512.8,283.1 512.8,284.3 512.9,285.1 512.9,286.0 513.0,286.7 513.0,287.3 513.0,287.8 513.1,289.2 513.1,289.6 513.2,290.7 513.2,291.3 513.3,292.2 513.3,293.0 513.4,292.6 513.4,291.1 513.5,290.6 513.5,289.9 513.6,289.0 513.6,288.5 513.7,287.2 513.7,286.8 513.8,285.8 513.8,285.2 513.9,283.7 514.0,283.0 514.0,282.3 514.1,281.9 514.1,280.4 514.2,279.8 514.2,279.4 514.3,278.8 514.3,277.3 514.4,276.7 514.4,276.1 514.5,275.3 514.5,274.5 514.6,273.5 515.8,272.5 515.9,273.5 515.9,273.9 516.0,274.7 516.1,275.4 516.1,276.7 516.2,277.2 516.2,278.0 516.3,279.4 516.4,280.0 516.4,280.7 516.5,281.6 516.6,282.4 516.6,283.3 516.7,283.8 516.7,284.4 516.8,285.2 516.9,286.0 516.9,287.1 517.0,288.0 517.0,288.5 517.1,289.3 517.1,290.4 517.2,291.6 517.2,292.2 517.3,292.7 517.4,293.9 517.4,294.3 517.4,295.0 517.5,296.0 517.5,296.9 517.6,297.9 517.6,298.5 517.7,299.5 517.8,299.9 517.8,301.0 517.8,300.5 517.9,299.3 517.9,298.8 517.9,297.5 517.9,297.2 518.0,296.0 518.0,295.6 518.0,294.8 518.0,293.9 518.1,292.9 518.1,291.9 518.1,291.2 518.1,290.9 518.2,289.6 518.2,289.1 518.2,288.3 518.3,287.5 518.3,286.4 518.3,285.6 518.3,284.7 518.4,284.5 518.4,283.3 518.4,282.7 518.4,281.8 518.5,280.8 518.5,279.9 518.5,279.1 518.5,278.8 518.6,277.6 518.6,277.0 519.6,277.0 519.7,278.2 519.7,278.5 519.8,279.6 519.8,279.9 519.9,281.2 519.9,281.6 520.0,282.5 520.0,283.4 520.1,283.9 520.1,284.8 520.2,286.0 520.2,286.4 520.3,287.3 520.3,288.4 520.4,289.0 520.5,287.9 520.5,287.1 520.6,286.2 520.6,285.5 520.7,284.7 520.8,284.0 520.8,283.1 520.9,282.5 521.0,281.0 521.0,280.7 521.1,280.0 521.1,278.6 521.2,278.0 522.2,276.5 523.2,277.0 523.3,277.8 523.5,278.3 523.6,279.5 523.8,280.7 523.9,280.8 524.1,281.7 524.2,283.0 524.2,283.8 524.3,284.4 524.3,285.3 524.3,286.3 524.4,286.9 524.4,287.6 524.4,288.7 524.5,289.6 524.5,290.7 524.6,291.3 524.6,291.8 524.6,292.7 524.7,293.9 524.7,294.6 524.7,295.6 524.8,296.5 524.8,297.0 524.8,298.1 524.9,298.4 524.9,299.8 524.9,300.3 524.9,301.0 525.0,301.7 525.0,303.0 525.0,303.4 525.0,304.2 525.1,305.1 525.1,306.4 525.1,306.9 525.1,307.9 525.2,308.3 525.2,309.4 525.2,310.1 525.2,310.8 525.3,312.0 525.3,312.6 525.3,313.3 525.3,314.7 525.4,315.2 525.4,316.0 525.7,314.6 525.9,313.5 526.2,313.7 526.5,312.7 526.7,311.1 527.0,311.0 527.1,310.2 527.1,309.6 527.2,308.6 527.2,307.6 527.3,307.0 527.4,306.2 527.4,305.5 527.5,304.2 527.6,304.0 527.6,303.3 527.7,302.3 527.7,301.6 527.8,300.4 527.9,300.0 527.9,298.6 528.0,297.9 528.0,297.3 528.1,296.8 528.2,295.3 528.2,294.6 528.3,293.7 528.4,293.2 528.4,292.1 528.5,291.4 528.5,291.0 528.6,290.0 528.7,290.9 528.7,292.0 528.8,292.3 528.8,293.4 528.9,293.7 528.9,295.2 529.0,295.4 529.0,296.4 529.1,297.3 529.1,298.4 529.2,298.9 529.2,300.1 529.3,300.6 529.4,301.1 529.4,302.4 529.5,302.7 529.5,304.1 529.6,304.5 529.6,305.1 529.7,306.5 529.7,306.8 529.8,307.7 529.8,308.5 529.9,309.5 529.9,309.8 530.0,311.0 530.1,310.1 530.1,309.1 530.2,308.8 530.3,307.3 530.4,307.0 530.4,305.9 530.5,305.2 530.6,304.5 530.7,303.8 530.7,302.5 530.8,301.8 530.9,300.9 530.9,300.8 531.0,299.2 531.1,298.4 531.2,297.9 531.2,297.2 531.3,296.6 531.4,295.1 531.5,294.4 531.5,293.5 531.6,293.0 531.7,292.3 531.9,291.3 532.0,290.5 532.2,290.2 532.3,289.2 532.4,288.6 532.6,287.9 532.7,286.3 532.9,286.3 533.0,285.0 533.2,284.0 533.5,282.7 533.7,283.1 533.9,281.1 534.2,280.1 534.4,280.0 534.6,280.6 534.8,281.5 535.0,283.2 535.2,284.0 535.4,284.3 535.6,285.3 535.8,286.6 536.0,287.0 536.1,288.1 536.1,288.8 536.2,289.5 536.2,290.0 536.3,290.9 536.4,292.1 536.4,292.8 536.5,293.8 536.5,294.7 536.6,295.6 536.6,295.8 536.7,296.5 536.8,298.0 536.8,298.6 536.9,299.1 536.9,300.3 537.0,301.0 537.1,299.9 537.2,299.1 537.2,298.3 537.3,297.6 537.4,296.9 537.5,295.6 537.5,295.3 537.6,294.3 537.7,293.4 537.8,292.7 537.8,292.0 537.9,290.4 538.0,290.0 538.0,290.8 538.1,291.7 538.1,292.6 538.2,293.3 538.2,293.8 538.2,295.2 538.3,295.9 538.3,296.3 538.3,297.2 538.4,298.4 538.4,298.7 538.5,299.6 538.5,300.8 538.5,301.6 538.6,301.9 538.6,303.1 538.7,303.6 538.7,304.7 538.7,305.5 538.8,305.9 538.8,306.8 538.8,307.6 538.9,308.4 538.9,309.1 539.0,309.9 539.0,311.0 539.1,311.7 539.2,312.5 539.3,313.0 539.4,314.3 539.5,315.4 539.6,315.9 539.7,316.5 539.8,317.6 539.9,318.1 540.0,319.0 540.1,317.9 540.2,317.3 540.2,316.1 540.3,315.9 540.4,314.6 540.5,313.9 540.6,313.7 540.7,312.7 540.7,311.9 540.8,310.9 540.9,310.1 541.0,309.3 541.1,308.7 541.2,307.2 541.2,306.9 541.3,305.6 541.4,305.0 541.5,303.9 541.6,303.7 541.8,302.7 541.9,302.2 542.0,301.4 542.1,300.3 542.2,299.1 542.4,298.1 542.5,297.8 542.6,297.0 542.7,296.4 542.8,295.2 542.9,294.2 543.0,293.3 543.1,292.7 543.2,292.4 543.3,290.9 543.4,290.3 543.5,289.6 543.6,289.0 543.7,290.0 543.7,291.0 543.8,291.1 543.8,292.0 543.9,293.5 544.0,294.3 544.0,294.5 544.1,295.5 544.1,296.4 544.2,297.1 544.2,298.0 544.3,298.9 544.4,299.5 544.4,300.2 544.5,301.0 544.5,301.9 544.6,303.0 544.7,303.4 544.8,304.8 545.0,305.7 545.1,306.1 545.2,307.5 545.3,308.2 545.4,308.7 545.5,309.7 545.6,310.2 545.8,311.8 545.9,312.2 546.0,313.0 546.3,311.4 546.6,310.8 546.8,310.9 547.1,309.6 547.4,309.0 547.5,310.0 547.6,310.4 547.6,311.7 547.7,312.5 547.8,312.6 547.9,313.9 548.0,314.3 548.0,315.6 548.1,316.5 548.2,317.3 548.3,317.6 548.4,318.2 548.4,319.5 548.5,320.3 548.6,321.0 548.7,321.5 548.8,322.4 548.9,323.6 548.9,324.0 549.0,325.3 549.1,325.8 549.2,326.6 549.3,327.6 549.4,328.5 549.4,329.5 549.5,329.7 549.6,331.0 549.7,330.4 549.7,329.1 549.8,328.4 549.9,327.9 549.9,327.1 550.0,326.2 550.0,325.6 550.1,324.3 550.2,323.5 550.2,323.0 550.3,321.9 550.4,321.0 550.4,320.2 550.5,319.8 550.5,319.1 550.6,318.0 550.7,317.4 550.8,316.9 550.9,315.9 551.0,314.6 551.1,313.8 551.2,313.4 551.3,312.0 551.4,311.7 551.5,310.4 551.6,310.0 551.7,310.4 551.8,311.7 551.8,312.2 551.9,313.7 552.0,314.5 552.1,314.9 552.2,315.5 552.3,316.2 552.3,317.4 552.4,318.3 552.5,318.9 552.6,320.1 552.7,320.7 552.8,321.8 552.8,322.0 552.9,322.8 553.0,324.0 553.1,323.1 553.1,322.4 553.2,321.4 553.3,320.9 553.4,319.8 553.4,319.0 553.5,318.4 553.6,317.8 553.6,317.0 553.7,315.9 553.8,315.2 553.8,314.8 553.9,314.0 554.0,312.9 554.0,311.7 554.1,311.2 554.2,310.5 554.3,309.4 554.3,308.4 554.4,308.0 555.6,307.0 555.7,306.6 555.7,305.7 555.8,304.3 555.8,303.7 555.9,303.0 555.9,302.0 556.0,301.0 556.0,300.7 556.1,299.9 556.1,298.8 556.2,297.7 556.2,297.1 556.3,296.1 556.3,296.0 556.4,294.4 556.4,293.8 556.5,293.4 556.5,292.1 556.6,291.2 556.6,290.4 556.7,289.6 556.7,289.1 556.8,288.5 556.8,287.2 556.9,286.4 556.9,286.0 557.0,285.0 557.1,284.1 557.1,283.3 557.2,282.3 557.3,281.6 557.3,281.4 557.4,279.9 557.5,279.2 557.5,278.8 557.6,278.1 557.6,277.3 557.7,276.2 557.8,275.8 557.8,274.7 557.9,273.8 558.0,274.4 558.1,275.4 558.2,276.5 558.3,277.4 558.4,277.6 558.5,278.5 558.6,280.1 558.7,280.1 558.8,281.7 558.9,282.2 559.0,281.3 559.0,280.4 559.1,279.6 559.1,278.9 559.2,278.6 559.2,277.1 559.3,276.8 559.4,275.6 559.4,274.7 559.5,274.3 559.5,273.2 559.6,272.3 559.6,271.6 559.7,271.2 559.8,270.4 559.8,269.3 559.9,268.1 559.9,267.9 560.0,266.9 560.0,266.4 560.1,265.6 560.2,264.3 560.2,263.9 560.3,263.1 560.3,261.8 560.4,261.1 560.4,260.3 560.5,259.6 560.6,260.3 560.7,261.1 560.8,261.7 560.9,262.6 561.0,264.1 561.1,264.4 561.2,265.5 561.3,266.5 561.4,267.2 561.5,267.5 561.6,269.0 561.7,269.7 561.8,270.7 561.9,271.3 562.0,272.1 562.1,272.7 562.1,272.1 562.2,270.9 562.2,270.4 562.3,269.4 562.3,268.9 562.4,267.6 562.4,267.1 562.5,266.1 562.5,265.7 562.6,264.5 562.6,264.1 562.7,263.3 562.7,262.5 562.8,261.1 562.8,260.9 562.8,260.0 562.9,259.1 562.9,258.3 563.0,257.0 563.0,256.8 563.1,255.8 563.1,254.9 563.2,254.0 563.2,253.6 563.3,252.7 563.3,252.0 563.4,250.7 563.4,250.0 563.5,249.1 563.5,248.5 563.6,249.0 563.6,250.0 563.7,250.5 563.8,252.0 563.9,252.3 563.9,253.0 564.0,253.8 564.1,255.2 564.1,255.5 564.2,256.5 564.3,257.3 564.3,258.4 564.4,259.4 564.5,259.6 564.6,260.7 564.6,261.7 564.7,262.2 564.8,261.3 564.9,260.9 565.0,259.9 565.0,258.7 565.1,258.4 565.2,257.3 565.3,256.4 565.3,257.0 565.4,258.1 565.4,259.1 565.4,259.7 565.5,260.5 565.5,261.3 565.6,262.5 565.6,263.2 565.6,263.7 565.7,264.6 565.7,265.5 565.7,266.7 565.8,267.3 565.8,267.8 565.9,269.2 565.9,269.4 565.9,270.6 566.0,271.3 566.0,272.2 566.1,271.6 566.1,270.5 566.2,269.4 566.3,269.0 566.3,268.4 566.4,267.6 566.5,266.4 566.6,265.5 566.6,265.1 566.7,264.4 566.8,263.1 566.8,262.8 566.9,262.1 567.0,260.8 567.0,260.0 567.1,259.4 567.2,258.8 567.3,257.4 567.3,256.7 567.4,255.9 567.5,255.4 567.5,254.1 567.6,253.6 568.5,252.4 568.5,251.6 568.6,250.8 568.6,250.1 568.7,248.9 568.7,248.7 568.7,248.0 568.8,246.8 568.8,246.2 568.8,245.0 568.9,244.7 568.9,243.6 569.0,243.0 569.0,242.3 569.0,241.1 569.1,240.7 569.1,239.4 569.1,238.5 569.2,238.0 569.2,237.5 569.3,236.7 569.3,235.9 569.3,234.8 569.4,234.3 569.4,233.2 569.5,232.1 569.5,231.7 569.5,231.0 569.6,229.9 569.6,229.3 569.6,228.2 569.7,227.4 569.7,226.7 569.8,226.0 569.8,225.2 569.8,226.0 569.9,226.5 569.9,227.2 570.0,228.3 570.0,229.4 570.0,230.2 570.1,230.6 570.1,231.4 570.2,232.4 570.2,233.0 570.2,234.1 570.3,235.1 570.3,235.4 570.4,236.5 570.4,237.2 570.4,236.6 570.5,235.8 570.5,234.9 570.5,234.1 570.6,233.0 570.6,232.6 570.6,231.9 570.7,230.5 570.7,230.3 570.7,229.2 570.7,228.1 570.8,227.3 570.8,227.0 570.8,226.1 570.9,225.0 570.9,224.4 570.9,223.7 571.0,223.1 571.0,222.0 571.3,220.8 571.6,220.6 571.9,219.3 572.0,219.9 572.1,220.7 572.1,221.5 572.2,222.6 572.3,223.6 572.4,224.2 572.4,224.9 572.5,225.8 572.6,226.6 572.7,227.5 572.7,228.4 572.8,229.5 572.9,230.3 572.9,230.9 573.0,231.9 573.0,232.7 573.1,233.9 573.1,234.3 573.1,235.5 573.2,235.9 573.2,236.5 573.3,237.6 573.3,238.1 573.4,238.9 573.4,239.7 573.4,240.9 573.5,241.9 573.5,242.3 573.6,243.1 573.6,244.0 573.6,244.7 573.7,245.5 573.7,246.5 573.8,247.1 573.8,247.8 573.8,249.1 573.9,249.7 573.9,250.0 573.9,251.4 574.0,252.2 574.0,252.7 574.1,253.7 574.1,254.7 574.1,255.1 574.2,256.0 574.2,256.8 574.4,255.7 574.5,255.2 574.7,254.4 574.9,253.7 575.0,253.1 575.2,251.7 575.3,252.3 575.3,253.4 575.4,254.7 575.5,255.5 575.6,256.3 575.6,257.2 575.7,258.0 576.0,256.9 576.2,257.1 576.5,255.5 576.5,256.3 576.6,257.1 576.6,257.7 576.6,258.5 576.6,259.8 576.7,260.6 576.7,260.9 576.7,261.9 576.7,262.8 576.8,263.7 576.8,264.4 576.8,265.6 576.8,266.0 576.9,266.9 576.9,268.0 576.9,268.6 576.9,269.4 577.0,270.1 577.0,271.0 577.0,271.7 577.1,272.7 577.1,273.6 577.2,274.0 577.2,274.9 577.2,275.7 577.3,276.5 577.3,277.7 577.4,278.2 577.4,278.8 577.4,279.7 577.5,280.8 577.5,281.2 577.6,282.3 577.6,282.7 577.6,283.6 577.7,284.3 577.7,285.6 577.8,285.9 577.8,286.8 577.8,287.5 577.9,288.4 577.9,289.6 578.0,290.4 578.0,291.0 578.1,290.6 578.3,289.8 578.4,288.5 578.6,288.0 578.7,286.3 578.9,286.3 579.0,285.0 579.1,284.1 579.3,283.0 579.4,282.8 579.5,282.1 579.7,280.7 579.8,279.5 579.9,279.6 580.1,278.6 580.2,277.6 580.3,277.2 580.5,275.3 580.6,275.0 580.6,275.5 580.7,276.4 580.7,277.1 580.7,278.4 580.8,279.2 580.8,279.6 580.9,280.5 580.9,281.3 580.9,282.4 581.0,283.3 581.0,284.3 581.0,284.7 581.1,285.9 581.1,286.4 581.2,287.1 581.2,287.9 581.2,288.7 581.3,290.0 581.3,290.8 581.3,291.4 581.4,291.9 581.4,292.7 581.5,293.5 581.5,294.4 581.5,295.5 581.6,295.9 581.6,297.0 581.6,297.8 581.7,298.8 581.7,299.1 581.8,300.2 581.8,301.3 581.9,301.9 581.9,302.6 582.0,303.8 582.0,304.4 582.1,305.0 582.1,305.8 582.2,307.0 582.2,307.8 582.3,308.6 582.3,309.2 582.4,309.7 582.4,310.5 582.5,311.5 582.5,312.5 582.6,312.8 582.6,314.0 582.7,313.4 582.8,312.6 582.8,311.5 582.9,310.2 583.0,310.1 583.1,308.9 583.1,308.3 583.2,307.4 583.3,306.7 583.4,305.6 583.5,305.2 583.5,304.4 583.6,303.5 583.7,302.4 583.8,301.3 583.8,300.6 583.9,299.6 584.0,299.0 584.2,300.4 584.4,301.0 584.6,301.8 584.8,302.7 585.0,303.0 585.1,302.6 585.1,301.5 585.2,300.4 585.2,299.9 585.3,298.7 585.3,298.2 585.4,297.0 585.5,296.7 585.5,295.6 585.6,294.6 585.6,294.3 585.7,292.8 585.7,292.7 585.8,291.7 585.9,290.4 585.9,290.1 586.0,289.1 586.0,288.5 586.1,287.5 586.1,286.5 586.2,286.1 586.3,284.6 586.3,284.3 586.4,283.0 586.4,282.3 586.5,281.3 586.5,281.1 586.6,280.0 586.6,280.8 586.7,281.8 586.7,282.2 586.8,283.4 586.8,284.1 586.8,284.5 586.9,285.6 586.9,286.6 587.0,287.0 587.0,288.1 587.0,288.6 587.1,289.5 587.1,290.7 587.2,291.5 587.2,292.4 587.2,292.7 587.3,293.7 587.3,294.6 587.4,295.4 587.4,296.0 587.4,297.1 587.5,297.5 587.5,298.7 587.6,299.2 587.6,299.7 587.6,301.0 587.7,301.3 587.7,302.5 587.8,302.9 587.8,304.4 587.8,304.8 587.9,305.8 587.9,306.1 588.0,307.3 588.0,308.0 588.0,307.1 588.1,306.2 588.1,305.8 588.2,304.4 588.2,304.0 588.3,302.9 588.3,302.7 588.4,301.9 588.4,300.4 588.5,300.0 588.5,299.2 588.6,298.6 588.6,297.8 588.7,296.7 588.7,296.3 588.7,295.0 588.8,294.1 588.8,293.8 588.9,292.5 588.9,291.8 589.0,291.2 589.0,290.3 589.1,289.3 589.1,289.1 589.2,288.0 589.2,287.4 589.3,286.2 589.3,285.9 589.4,284.6 589.4,284.0 589.5,285.1 589.5,285.7 589.6,286.8 589.6,287.5 589.7,288.2 589.7,288.9 589.8,289.9 589.9,290.4 589.9,291.0 590.0,292.4 590.0,293.1 590.1,293.9 590.1,294.7 590.2,295.1 590.3,296.1 590.3,297.2 590.4,298.1 590.4,298.9 590.5,299.1 590.5,300.3 590.6,301.0 590.7,300.2 590.7,299.3 590.8,298.3 590.9,297.5 590.9,296.9 591.0,296.1 591.1,295.1 591.1,294.4 591.2,293.8 591.3,293.1 591.3,292.2 591.4,291.0 591.5,290.8 591.5,289.6 591.6,289.2 591.7,288.5 591.7,286.9 591.8,286.5 591.9,286.0 591.9,284.7 592.0,284.0 592.0,284.9 592.1,285.5 592.1,286.1 592.2,287.1 592.2,287.9 592.3,288.8 592.3,289.9 592.3,290.7 592.4,291.8 592.4,292.4 592.5,293.0 592.5,294.2 592.6,294.8 592.6,295.6 592.7,296.7 592.7,297.3 592.7,297.9 592.8,298.9 592.8,299.5 592.9,300.9 592.9,301.2 593.0,302.5 593.0,303.0 593.1,301.8 593.1,301.0 593.2,300.6 593.3,299.5 593.3,298.9 593.4,297.8 593.4,297.5 593.5,296.6 593.6,295.8 593.6,295.2 593.7,294.4 593.8,293.3 593.8,292.5 593.9,291.1 594.0,290.4 594.0,289.8 594.1,289.5 594.1,288.1 594.2,287.5 594.3,286.2 594.3,285.7 594.4,285.0 594.5,286.2 594.5,286.7 594.6,287.7 594.7,287.9 594.8,288.9 594.8,289.7 594.9,291.0 595.0,291.2 595.0,292.8 595.1,293.0 595.2,294.4 595.2,294.9 595.3,295.6 595.4,296.9 595.5,297.3 595.5,298.3 595.6,299.0 595.7,297.8 595.8,297.7 595.9,297.0 596.0,295.4 596.0,295.2 596.1,293.9 596.2,293.0 596.3,292.4 596.4,291.8 596.5,291.3 596.6,290.5 596.6,289.7 596.7,288.6 596.8,287.8 596.9,286.5 597.0,286.0 597.1,287.1 597.2,287.7 597.3,288.4 597.4,289.8 597.5,290.0 597.6,290.7 597.8,291.6 597.9,292.4 598.0,293.7 598.1,294.8 598.2,295.0 598.3,296.2 598.4,297.0 598.6,296.2 598.8,295.3 599.0,294.3 599.2,293.6 599.4,292.0 599.6,291.2 599.8,290.8 600.0,290.0 600.1,290.5 600.3,291.9 600.4,292.2 600.5,293.6 600.6,293.8 600.8,294.5 600.9,295.7 601.0,296.4 601.1,297.2 601.3,298.5 601.4,299.0 601.6,297.8 601.8,297.5 602.0,296.8 602.2,295.4 602.4,294.6 602.6,294.3 602.8,293.0 603.0,292.0 603.1,292.5 603.2,293.2 603.4,294.1 603.5,295.2 603.6,295.8 603.7,297.2 603.9,297.8 604.0,298.6 604.1,299.6 604.2,300.9 604.4,301.0 604.5,301.8 604.6,303.0 604.9,301.9 605.2,301.1 605.4,301.3 605.7,300.2 606.0,299.0 606.1,299.7 606.2,300.3 606.2,301.0 606.3,301.9 606.4,303.4 606.5,304.0 606.5,304.4 606.6,305.6 606.7,305.9 606.8,307.1 606.8,307.8 606.9,308.4 607.0,309.7 607.1,310.5 607.1,311.2 607.2,311.7 607.3,312.9 607.4,313.5 607.4,314.5 607.5,314.8 607.6,316.0 607.7,315.5 607.8,313.9 607.8,313.3 607.9,312.6 608.0,311.6 608.1,310.7 608.2,310.4 608.3,309.9 608.3,308.4 608.4,307.6 608.5,307.1 608.6,305.9 608.7,305.2 608.8,304.6 608.8,303.6 608.9,302.5 609.0,302.0 609.2,300.7 609.3,300.5 609.5,300.2 609.6,299.3 609.8,297.5 610.0,297.2 610.1,296.4 610.3,295.2 610.4,295.0 610.6,294.0 610.7,293.2 610.8,292.7 611.0,291.3 611.1,291.1 611.2,290.2 611.3,289.0 611.4,287.8 611.5,287.3 611.6,286.1 611.8,285.9 611.9,285.0 612.0,284.0 612.1,283.3 612.2,282.8 612.3,281.1 612.4,280.9 612.5,280.2 612.5,278.7 612.6,278.1 612.7,277.0 612.8,276.7 612.9,276.0 613.0,275.0 613.0,274.1 613.1,273.5 613.1,272.5 613.2,271.9 613.2,270.8 613.3,270.5 613.3,269.3 613.4,268.2 613.4,267.4 613.5,267.1 613.5,266.4 613.6,265.4 613.6,264.3 613.7,264.0 613.7,263.1 613.8,261.8 613.8,261.3 613.9,262.0 613.9,263.1 614.0,263.4 614.0,264.3 614.1,265.3 614.1,266.5 614.2,267.5 614.2,267.8 614.3,269.1 614.3,269.8 614.4,270.7 614.4,271.3 614.5,272.4 614.5,273.0 614.6,274.0 614.6,274.6 614.7,275.1 614.7,276.2 614.8,277.0 614.8,277.8 614.9,278.5 614.9,279.3 614.9,280.2 615.0,281.1 615.0,281.7 615.0,282.5 615.0,283.5 615.1,284.3 615.1,285.0 615.1,286.0 615.2,286.5 615.2,287.5 615.2,288.2 615.3,289.3 615.3,290.1 615.3,290.9 615.4,291.6 615.4,292.2 615.4,293.4 615.4,294.0 615.5,294.7 615.5,295.4 615.5,296.3 615.6,297.3 615.6,298.0 615.7,297.4 615.7,296.3 615.8,295.7 615.8,294.5 615.9,293.8 616.0,292.9 616.0,292.1 616.1,291.3 616.1,290.8 616.2,290.0 616.2,288.7 616.3,287.9 616.4,287.5 616.4,286.6 616.5,285.8 616.5,284.9 616.6,284.0 616.6,285.0 616.7,285.4 616.7,286.1 616.8,287.1 616.8,287.7 616.9,289.2 616.9,289.7 617.0,290.6 617.0,291.6 617.1,292.3 617.1,292.7 617.2,293.6 617.2,294.2 617.3,295.6 617.3,296.3 617.4,296.9 617.4,297.7 617.5,298.4 617.5,299.4 617.6,300.4 617.6,301.0 617.7,302.1 617.7,302.9 617.8,303.7 617.9,304.2 617.9,305.0 618.0,305.7 618.0,307.1 618.1,307.2 618.2,308.0 618.2,308.9 618.3,310.3 618.4,311.0 618.4,311.4 618.5,312.7 618.5,313.5 618.6,314.0 618.7,314.7 618.9,315.2 619.0,316.7 619.2,317.1 619.3,317.6 619.4,319.3 619.6,319.5 619.7,320.3 619.9,321.3 620.0,322.0 620.1,322.6 620.1,323.2 620.2,324.3 620.2,325.2 620.3,325.7 620.4,326.8 620.4,327.9 620.5,328.4 620.6,329.5 620.6,330.2 620.7,330.7 620.8,331.4 620.8,332.7 620.9,333.5 620.9,334.0 621.0,335.0 621.1,333.9 621.2,333.7 621.3,332.9 621.4,331.5 621.5,331.0 621.5,330.2 621.6,329.1 621.7,328.0 621.8,327.5 621.9,327.0 622.0,326.0 622.1,326.9 622.2,327.7 622.2,328.2 622.3,329.1 622.4,330.0 622.5,330.9 622.6,331.7 622.7,333.0 622.8,333.2 622.8,334.8 622.9,334.9 623.0,336.0 623.0,335.5 623.1,334.2 623.1,333.7 623.2,332.7 623.2,331.6 623.3,331.4 623.4,330.6 623.4,329.4 623.5,329.0 623.5,328.0 623.5,327.6 623.6,326.1 623.6,325.5 623.7,324.6 623.8,324.1 623.8,323.4 623.9,322.7 623.9,321.6 624.0,320.7 624.0,320.0 624.1,319.5 624.2,318.0 624.3,317.4 624.4,317.0 624.5,315.9 624.6,315.7 624.7,314.0 624.7,313.6 624.8,312.5 624.9,311.5 625.0,310.8 625.1,310.0 625.2,309.5 625.3,308.7 625.4,308.0 625.5,308.8 625.5,309.4 625.6,310.6 625.7,311.2 625.7,312.4 625.8,312.5 625.9,313.6 625.9,314.4 626.0,315.1 626.1,316.3 626.1,316.6 626.2,317.9 626.3,318.3 626.3,319.1 626.4,320.0 626.6,319.4 626.9,318.5 627.1,317.3 627.4,316.2 627.6,316.0 627.8,317.5 628.0,317.5 628.2,318.1 628.4,319.6 628.6,320.3 628.8,320.9 629.0,322.0 629.1,322.6 629.2,323.9 629.3,324.2 629.4,325.1 629.5,326.5 629.6,326.7 629.7,327.5 629.8,328.1 629.9,329.4 630.0,330.0 630.1,329.4 630.2,328.3 630.3,327.5 630.4,326.5 630.5,326.3 630.6,325.2 630.7,324.7 630.8,323.5 630.9,323.0 631.0,322.0 631.2,322.2 631.3,323.3 631.5,325.1 631.7,325.6 631.8,326.4 632.0,327.0 632.0,326.2 632.1,325.3 632.1,324.3 632.2,323.5 632.2,323.0 632.3,322.2 632.3,321.1 632.4,320.6 632.4,319.4 632.5,318.9 632.5,317.8 632.5,317.2 632.6,316.2 632.6,315.6 632.7,314.5 632.7,313.9 632.8,313.2 632.8,312.0 632.9,311.3 632.9,310.8 633.0,309.9 633.0,309.0 633.0,308.3 633.1,307.6 633.1,306.7 633.2,305.6 633.2,305.0 633.3,304.5 633.4,303.5 633.4,302.8 633.5,301.7 633.5,301.0 633.5,300.6 633.6,299.6 633.6,298.7 633.7,297.5 633.8,297.1 633.8,295.8 633.9,295.7 633.9,295.0 634.0,294.0 634.0,293.0 634.1,293.6 634.2,294.9 634.3,295.1 634.4,296.5 634.5,297.0 634.6,297.3 634.7,299.0 634.8,299.3 634.9,300.5 635.0,301.0 635.1,300.3 635.1,299.4 635.2,298.9 635.2,297.5 635.3,297.3 635.4,296.0 635.4,294.9 635.5,294.4 635.6,293.3 635.6,292.5 635.7,292.2 635.8,290.9 635.8,290.2 635.9,289.5 635.9,288.6 636.0,288.0 636.2,287.8 636.5,286.9 636.7,286.1 636.9,285.4 637.2,283.7 637.4,283.0 637.6,282.5 637.7,281.1 637.9,281.0 638.1,280.1 638.2,279.1 638.4,278.0 638.5,278.6 638.5,279.3 638.6,280.8 638.7,281.3 638.8,282.2 638.9,283.2 638.9,283.4 639.0,284.7 639.1,285.3 639.1,286.4 639.2,286.9 639.3,287.5 639.4,289.0 639.5,289.2 639.5,290.4 639.6,291.0 639.8,290.6 640.0,288.9 640.2,288.7 640.4,287.4 640.6,286.3 640.8,285.5 641.0,285.0 641.5,286.7 641.9,286.0 642.4,287.0 642.5,286.2 642.6,285.3 642.7,284.0 642.8,283.9 642.9,283.0 643.0,282.3 643.0,280.9 643.1,280.0 643.2,279.2 643.3,278.8 643.4,277.8 643.5,276.8 643.6,276.0 643.6,276.8 643.7,277.4 643.7,278.7 643.7,279.2 643.7,280.1 643.8,281.1 643.8,281.5 643.8,282.7 643.8,283.2 643.9,284.4 643.9,284.7 643.9,285.6 643.9,286.7 644.0,287.4 644.0,288.2 644.0,289.1 644.0,289.7 644.1,290.6 644.1,291.2 644.1,292.5 644.2,293.0 644.2,294.2 644.2,294.8 644.2,295.6 644.3,296.5 644.3,297.0 644.3,298.2 644.3,298.7 644.4,299.9 644.4,300.7 644.4,301.4 644.4,302.3 644.5,302.9 644.5,303.9 644.5,304.9 644.5,305.2 644.6,305.9 644.6,307.0 644.7,306.1 644.8,305.3 645.0,304.1 645.1,303.4 645.2,303.2 645.3,301.9 645.4,300.8 645.5,300.0 645.6,299.6 645.8,298.3 645.9,297.8 646.0,297.0 646.1,297.8 646.1,298.5 646.2,299.4 646.3,300.5 646.3,300.6 646.4,302.2 646.5,302.3 646.5,303.0 646.6,304.4 646.7,305.1 646.7,305.8 646.8,306.4 646.9,307.6 646.9,308.0 647.0,309.0 647.1,308.4 647.1,307.2 647.2,306.6 647.2,305.9 647.3,304.8 647.4,304.1 647.4,302.9 647.5,302.6 647.5,301.8 647.6,300.6 647.7,300.1 647.7,299.4 647.8,298.1 647.8,297.9 647.9,297.1 647.9,295.6 648.0,294.9 648.1,294.0 648.1,293.3 648.2,292.4 648.2,291.9 648.3,290.9 648.4,290.1 648.4,289.4 648.5,288.5 648.5,288.0 648.6,287.0 648.7,288.0 648.7,288.3 648.8,289.2 648.9,289.8 648.9,290.9 649.0,291.5 649.1,292.8 649.1,293.6 649.2,294.6 649.3,294.8 649.3,295.4 649.4,296.8 649.5,297.3 649.5,298.6 649.6,299.0 649.8,298.0 649.9,297.1 650.1,296.0 650.3,296.2 650.4,294.8 650.6,294.0 650.7,294.8 650.7,295.6 650.8,296.7 650.8,297.6 650.9,298.1 651.0,298.7 651.0,299.7 651.1,300.9 651.1,301.4 651.2,302.4 651.3,303.1 651.3,303.9 651.4,304.8 651.5,305.4 651.5,306.4 651.6,307.5 651.6,307.7 651.7,308.8 651.8,310.0 651.8,310.9 651.9,311.0 651.9,312.3 652.0,313.0 652.1,313.9 652.2,315.0 652.3,315.4 652.4,315.9 652.5,316.9 652.5,318.1 652.6,318.9 652.7,319.3 652.8,320.5 652.9,321.3 653.0,322.0 653.2,321.4 653.5,319.6 653.7,319.4 653.9,318.4 654.2,318.0 654.4,317.0 654.5,316.0 654.5,315.0 654.6,314.6 654.7,313.5 654.7,313.1 654.8,311.8 654.9,311.2 654.9,310.6 655.0,309.2 655.1,308.9 655.1,307.5 655.2,307.4 655.3,305.8 655.3,305.5 655.4,304.4 655.5,303.4 655.5,302.7 655.6,302.0 655.7,301.2 655.8,300.2 655.8,299.1 655.9,298.6 656.0,297.6 656.1,297.3 656.1,296.0 656.2,295.2 656.3,294.1 656.4,293.9 656.4,292.5 656.5,292.0 656.6,291.0 656.7,292.1 656.8,292.6 656.8,293.7 656.9,294.1 657.0,294.8 657.1,295.5 657.2,296.7 657.3,297.9 657.3,298.1 657.4,299.2 657.5,300.3 657.6,300.7 657.7,301.4 657.8,302.5 657.8,303.3 657.9,304.6 658.0,305.0 658.1,304.5 658.2,303.1 658.2,302.5 658.3,301.5 658.4,300.4 658.5,299.9 658.5,299.4 658.6,298.1 658.7,297.5 658.8,296.7 658.8,295.3 658.9,295.2 659.0,294.0 659.1,294.5 659.1,295.5 659.2,296.6 659.2,296.9 659.3,297.9 659.3,298.6 659.4,299.6 659.4,300.1 659.5,301.0 659.5,301.9 659.6,302.6 659.6,303.4 659.7,304.3 659.8,305.3 659.8,305.8 659.9,307.2 659.9,307.7 660.0,308.3 660.0,309.1 660.1,310.4 660.1,310.6 660.2,312.0 660.2,312.3 660.3,313.7 660.3,314.1 660.4,315.0 660.5,314.3 660.5,313.7 660.6,312.2 660.7,311.3 660.8,311.0 660.8,310.1 660.9,309.4 661.0,308.2 661.0,307.6 661.1,306.5 661.2,305.9 661.2,304.9 661.3,304.4 661.4,303.3 661.5,302.5 661.5,301.9 661.6,301.0 661.7,299.8 661.8,299.6 661.8,298.5 661.9,297.4 662.0,296.4 662.1,295.9 662.1,295.1 662.2,294.4 662.3,293.3 662.4,292.5 662.4,292.0 662.5,290.6 662.6,290.0 662.7,289.7 662.9,288.7 663.0,288.0 663.2,287.1 663.3,285.4 663.5,285.2 663.6,284.0 663.7,284.9 663.8,285.4 663.9,286.9 663.9,287.5 664.0,288.4 664.1,289.1 664.2,289.5 664.3,291.0 664.4,291.2 664.4,292.1 664.5,293.3 664.6,294.0 664.7,292.8 664.9,292.2 665.0,291.6 665.1,290.1 665.2,289.8 665.4,288.3 665.5,287.8 665.6,287.0 666.1,288.0 666.5,288.7 667.0,289.0 667.1,289.5 667.1,290.4 667.2,291.9 667.2,292.2 667.3,293.1 667.3,293.9 667.4,295.0 667.4,295.9 667.5,296.6 667.6,297.3 667.6,298.2 667.7,299.0 667.7,299.6 667.8,301.0 667.8,301.9 667.9,302.6 667.9,303.6 668.0,304.0 668.2,303.1 668.3,302.8 668.5,301.2 668.7,301.0 668.8,300.1 669.0,299.0 669.0,300.1 669.1,300.9 669.1,301.7 669.2,302.1 669.2,303.3 669.3,303.8 669.3,304.5 669.4,305.4 669.4,306.5 669.5,307.4 669.5,308.2 669.6,308.8 669.6,309.3 669.7,310.1 669.7,311.2 669.8,311.7 669.8,312.6 669.9,313.3 669.9,314.1 670.0,315.4 670.0,316.0 670.1,314.9 670.3,314.7 670.4,313.4 670.5,313.1 670.6,311.7 670.8,310.8 670.9,310.2 671.0,308.9 671.1,308.6 671.3,307.7 671.4,307.0 671.5,305.7 671.6,305.6 671.7,304.3 671.8,303.1 671.9,303.2 672.0,301.7 672.0,300.8 672.1,299.8 672.2,299.0 672.3,298.7 672.4,297.8 672.5,296.8 672.6,296.0 672.7,296.6 672.7,297.5 672.8,298.8 672.8,299.2 672.9,300.5 673.0,301.3 673.0,301.5 673.1,302.9 673.1,303.0 673.2,304.4 673.2,305.3 673.3,306.0 673.4,306.7 673.4,307.8 673.5,308.1 673.5,309.2 673.6,310.0 673.8,308.8 674.0,308.1 674.1,307.0 674.3,306.8 674.5,305.7 674.6,305.1 674.8,304.0 675.0,303.0 675.1,303.9 675.2,305.0 675.3,305.7 675.4,306.3 675.5,306.8 675.6,308.2 675.7,308.5 675.8,309.0 675.9,310.0 676.0,311.0 676.1,310.3 676.2,309.7 676.2,308.6 676.3,307.8 676.4,307.1 676.5,306.2 676.5,305.0 676.6,304.2 676.7,303.6 676.8,302.4 676.8,301.4 676.9,301.0 677.0,300.0 677.1,299.4 677.2,298.0 677.4,297.6 677.5,296.9 677.6,295.2 677.8,294.4 677.9,293.9 678.0,293.0 678.1,292.0 678.2,291.7 678.2,290.9 678.3,289.6 678.4,289.1 678.5,288.1 678.6,286.9 678.7,286.8 678.8,285.2 678.8,284.3 678.9,283.8 679.0,283.0 679.1,283.3 679.3,284.6 679.4,285.4 679.5,286.8 679.6,287.0 679.8,288.3 679.9,289.0 680.0,289.6 680.1,290.1 680.3,291.0 680.4,292.0 680.5,291.1 680.6,290.1 680.8,289.5 680.9,288.5 681.0,287.4 681.1,286.9 681.3,286.4 681.4,285.0 681.5,285.6 681.5,286.5 681.6,287.1 681.7,287.9 681.8,288.7 681.8,289.9 681.9,291.1 682.0,291.8 682.0,292.8 682.1,293.5 682.2,294.1 682.2,295.0 682.3,295.3 682.4,296.4 682.5,297.2 682.5,298.3 682.6,299.0 682.8,297.6 682.9,297.4 683.1,296.3 683.3,295.7 683.4,294.7 683.6,294.0 683.7,292.8 683.8,292.5 683.8,291.7 683.9,290.7 684.0,289.4 684.1,289.0 684.1,288.4 684.2,287.7 684.3,286.6 684.4,285.1 684.4,285.0 684.5,284.0 684.6,283.0 684.7,283.6 684.8,285.1 684.9,285.9 685.0,286.8 685.1,287.0 685.2,288.2 685.4,288.8 685.5,289.6 685.6,290.9 685.7,291.6 685.8,292.1 685.9,293.2 686.0,294.0 686.1,295.2 686.2,295.7 686.2,296.9 686.3,297.4 686.4,298.6 686.5,298.6 686.6,299.8 686.7,300.7 686.8,301.7 686.8,302.8 686.9,303.3 687.0,304.0 687.1,303.2 687.1,302.5 687.2,301.6 687.3,301.0 687.3,300.4 687.4,298.8 687.5,298.2 687.5,297.9 687.6,296.4 687.7,296.2 687.7,294.8 687.8,294.5 687.9,293.9 687.9,292.6 688.0,292.0 688.1,292.7 688.1,293.4 688.2,294.6 688.2,295.3 688.3,296.1 688.4,296.7 688.4,297.8 688.5,298.9 688.6,299.5 688.6,300.5 688.7,300.7 688.8,301.8 688.8,302.5 688.9,303.2 688.9,304.4 689.0,305.0 689.1,305.6 689.2,306.7 689.2,307.8 689.3,308.8 689.4,308.8 689.5,309.9 689.5,310.9 689.6,312.1 689.7,312.3 689.8,313.8 689.8,314.2 689.9,315.2 690.0,316.0 690.1,315.6 690.2,314.0 690.3,313.4 690.4,312.5 690.5,311.6 690.6,311.0 690.7,310.6 690.8,309.7 690.9,308.4 691.0,308.0 691.1,309.1 691.2,309.6 691.3,310.1 691.4,311.6 691.5,312.4 691.5,312.6 691.6,314.1 691.7,314.8 691.8,315.1 691.9,315.7 692.0,317.0 692.4,317.0 692.7,316.2 693.0,313.9 693.4,314.0 693.5,315.2 693.7,316.1 693.9,316.8 694.0,317.9 694.1,318.9 694.3,319.1 694.5,320.5 694.6,321.0 695.1,322.6 695.5,321.9 696.0,323.0 696.5,322.7 696.9,322.1 697.4,321.0 697.5,322.3 697.7,322.8 697.9,323.4 698.0,324.2 698.1,325.4 698.3,325.8 698.5,327.5 698.6,328.0 698.8,329.3 698.9,329.3 699.1,330.7 699.3,331.5 699.4,331.7 699.6,333.0 699.7,334.2 699.9,335.0 700.0,335.4 700.1,336.1 700.2,337.1 700.4,338.5 700.5,339.1 700.6,340.0 700.7,339.5 700.9,337.9 701.0,337.0 701.1,336.3 701.2,336.0 701.4,334.4 701.5,333.4 701.6,333.0 701.9,332.6 702.2,330.7 702.4,330.9 702.7,329.1 703.0,329.0 703.1,329.6 703.2,330.9 703.4,332.0 703.5,332.4 703.6,333.3 703.8,333.8 703.9,335.0 704.0,336.0 704.1,336.6 704.3,338.0 704.4,338.8 704.6,339.7 704.7,340.3 704.9,341.4 705.0,342.0 705.1,340.8 705.2,340.2 705.2,339.3 705.3,338.5 705.4,338.0 705.5,336.7 705.6,336.0 705.7,335.1 705.8,334.8 705.8,333.8 705.9,332.8 706.0,332.0 706.2,332.6 706.4,334.2 706.6,335.0 706.8,335.1 707.0,336.0 707.1,335.2 707.2,334.7 707.2,333.3 707.3,332.4 707.4,331.5 707.5,331.0 707.6,330.4 707.7,329.0 707.8,328.4 707.8,328.1 707.9,326.8 708.0,326.0 708.1,326.8 708.2,328.1 708.4,329.0 708.5,329.4 708.6,330.0 708.8,331.4 708.9,332.4 709.0,333.0 709.1,332.6 709.2,331.5 709.3,330.4 709.4,329.7 709.5,328.7 709.5,328.0 709.6,327.2 709.7,326.8 709.8,326.0 709.9,325.2 710.0,324.0" fill="none" stroke="#0000ff" stroke-width="1.35" stroke-linejoin="round" stroke-linecap="round"/>
<path d="M20.5 21.5H710.5V446.5H20.5Z" fill="none" stroke="#000" stroke-width="1" shape-rendering="crispEdges"/>
<path d="M711 21.50H715 M711 49.83H715 M711 78.17H715 M711 106.50H715 M711 134.83H715 M711 163.17H715 M711 191.50H715 M711 219.83H715 M711 248.17H715 M711 276.50H715 M711 304.83H715 M711 333.17H715 M711 361.50H715 M711 389.83H715 M711 418.17H715 M711 446.50H715 M32.5 447V450 M95.5 447V450 M157.5 447V450 M219.5 447V450 M281.5 447V450 M343.5 447V450 M405.5 447V450 M467.5 447V450 M529.5 447V450 M591.5 447V450 M653.5 447V450" stroke="#000" stroke-width="1" fill="none" shape-rendering="crispEdges"/>
<text x="718.3" y="25.30" font-size="10.67">850</text>
<text x="718.3" y="53.63" font-size="10.67">800</text>
<text x="718.3" y="81.97" font-size="10.67">750</text>
<text x="718.3" y="110.30" font-size="10.67">700</text>
<text x="718.3" y="138.63" font-size="10.67">650</text>
<text x="718.3" y="166.97" font-size="10.67">600</text>
<text x="718.3" y="195.30" font-size="10.67">550</text>
<text x="718.3" y="223.63" font-size="10.67">500</text>
<text x="718.3" y="251.97" font-size="10.67">450</text>
<text x="718.3" y="280.30" font-size="10.67">400</text>
<text x="718.3" y="308.63" font-size="10.67">350</text>
<text x="718.3" y="336.97" font-size="10.67">300</text>
<text x="718.3" y="365.30" font-size="10.67">250</text>
<text x="718.3" y="393.63" font-size="10.67">200</text>
<text x="718.3" y="421.97" font-size="10.67">150</text>
<text x="718.3" y="450.30" font-size="10.67">100</text>
<text x="32.8" y="462" font-size="10.67" text-anchor="middle">2015</text>
<text x="95.8" y="462" font-size="10.67" text-anchor="middle">2016</text>
<text x="157.8" y="462" font-size="10.67" text-anchor="middle">2017</text>
<text x="219.8" y="462" font-size="10.67" text-anchor="middle">2018</text>
<text x="281.8" y="462" font-size="10.67" text-anchor="middle">2019</text>
<text x="343.8" y="462" font-size="10.67" text-anchor="middle">2020</text>
<text x="405.8" y="462" font-size="10.67" text-anchor="middle">2021</text>
<text x="467.8" y="462" font-size="10.67" text-anchor="middle">2022</text>
<text x="529.8" y="462" font-size="10.67" text-anchor="middle">2023</text>
<text x="591.8" y="462" font-size="10.67" text-anchor="middle">2024</text>
<text x="653.8" y="462" font-size="10.67" text-anchor="middle">2025</text>
<text x="338.4" y="19.7" font-size="18.67" font-weight="bold" font-style="italic" fill="#0000ff" xml:space="preserve">O  -  Oats</text>
<text x="312.6" y="32.2" font-size="10.67" letter-spacing="0.09" xml:space="preserve">Dec-03  2025   Close=317.5</text>
<path d="M26.6 441.6H32.1M37.3 441.6H38.9" stroke="#000" stroke-width="1.2" fill="none"/>
<text x="44.2" y="445" font-size="10.67" letter-spacing="0.12">MA - 200 dma</text>
<text y="472.7" font-size="11.33"><tspan x="301.5" textLength="84" lengthAdjust="spacing">world gold charts</tspan> <tspan x="388.8">©</tspan> <tspan x="400.5" textLength="122.6" lengthAdjust="spacing">www.goldchartsrus.com</tspan></text>
</svg>
</body></html>
